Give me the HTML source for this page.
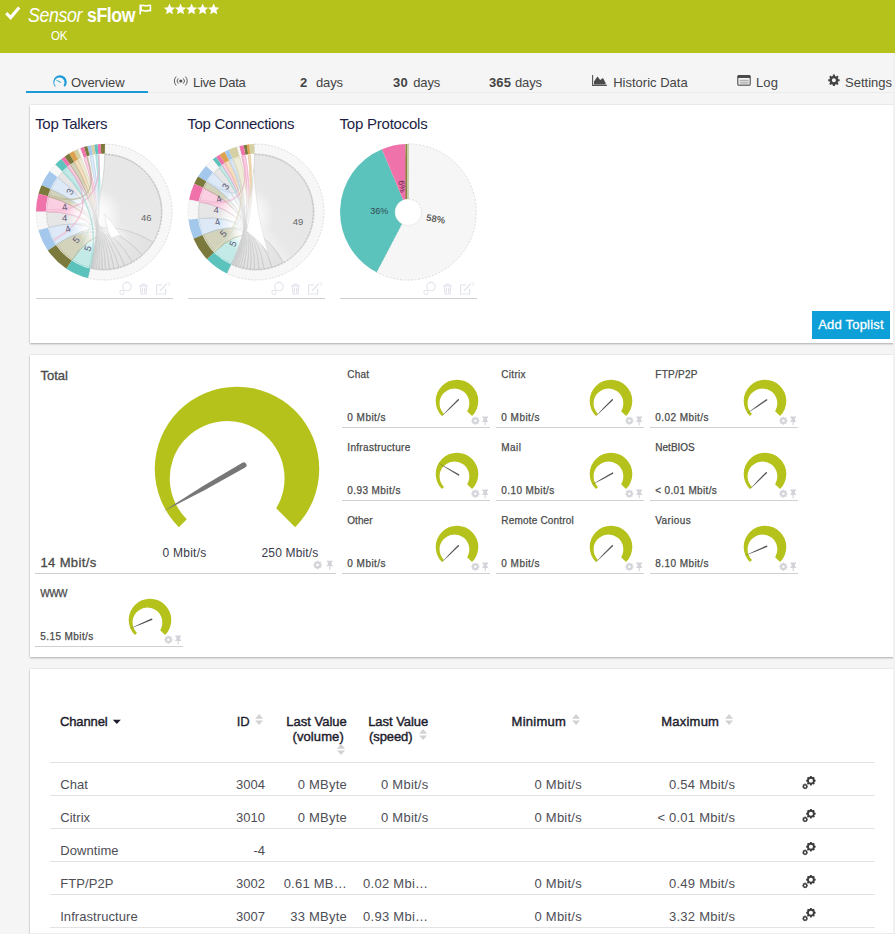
<!DOCTYPE html>
<html><head><meta charset="utf-8"><title>Sensor sFlow</title>
<style>
html,body{margin:0;padding:0}
body{width:895px;height:934px;overflow:hidden;background:#f5f5f5;position:relative;font-family:"Liberation Sans",sans-serif}
.t{position:absolute;white-space:nowrap;font-family:"Liberation Sans",sans-serif}
.p{position:absolute;background:#fff;box-shadow:0 1px 2px rgba(0,0,0,.28),0 0 1px rgba(0,0,0,.18)}
svg{overflow:visible}
svg text{font-family:"Liberation Sans",sans-serif}
</style></head><body>
<div style="position:absolute;left:0;top:0;width:895px;height:53px;background:#b5c21c"></div>
<svg style="position:absolute;left:0;top:0" width="30" height="30"><path d="M6.2 13.2 L10.6 17.6 L19.2 7.6" fill="none" stroke="#fff" stroke-width="3.1" stroke-linecap="butt" stroke-linejoin="miter"/></svg>
<div class="t" style="left:28.00px;top:4.57px;font-size:20px;line-height:20px;color:#fff;letter-spacing:-0.422px;transform:scaleX(0.8876);transform-origin:0 0;font-style:italic;">Sensor</div>
<div class="t" style="left:87.00px;top:4.57px;font-size:20px;line-height:20px;color:#fff;letter-spacing:-0.453px;transform:scaleX(0.8823);transform-origin:0 0;font-weight:700;">sFlow</div>
<svg style="position:absolute;left:138px;top:3px" width="16" height="14"><path d="M2.2 1.5 V11.5" stroke="#fff" stroke-width="1.6" fill="none"/><path d="M3 2.6 C5 1.6 6.5 3.4 8.6 2.8 C10 2.4 11 2 12.4 2.4 V7.6 C11 7.2 10 7.6 8.6 8 C6.5 8.6 5 6.8 3 7.8 Z" fill="none" stroke="#fff" stroke-width="1.6"/></svg>
<svg style="position:absolute;left:160px;top:0" width="70" height="20"><polygon points="9.50,3.60 11.12,7.28 15.11,7.68 12.12,10.35 12.97,14.27 9.50,12.25 6.03,14.27 6.88,10.35 3.89,7.68 7.88,7.28" fill="#fff"/><polygon points="20.55,3.60 22.17,7.28 26.16,7.68 23.17,10.35 24.02,14.27 20.55,12.25 17.08,14.27 17.93,10.35 14.94,7.68 18.93,7.28" fill="#fff"/><polygon points="31.60,3.60 33.22,7.28 37.21,7.68 34.22,10.35 35.07,14.27 31.60,12.25 28.13,14.27 28.98,10.35 25.99,7.68 29.98,7.28" fill="#fff"/><polygon points="42.65,3.60 44.27,7.28 48.26,7.68 45.27,10.35 46.12,14.27 42.65,12.25 39.18,14.27 40.03,10.35 37.04,7.68 41.03,7.28" fill="#fff"/><polygon points="53.70,3.60 55.32,7.28 59.31,7.68 56.32,10.35 57.17,14.27 53.70,12.25 50.23,14.27 51.08,10.35 48.09,7.68 52.08,7.28" fill="#fff"/></svg>
<div class="t" style="left:51.00px;top:29.00px;font-size:13px;line-height:13px;color:#fff;letter-spacing:-0.376px;transform:scaleX(0.8873);transform-origin:0 0;">OK</div>
<div style="position:absolute;left:26px;top:92px;width:869px;height:1px;background:#ebebeb"></div>
<div style="position:absolute;left:26px;top:91px;width:122px;height:2px;background:#1a9ad6"></div>
<div class="t" style="left:71.00px;top:76.00px;font-size:13px;line-height:13px;color:#444;letter-spacing:-0.085px;">Overview</div>
<div class="t" style="left:193.00px;top:76.00px;font-size:13px;line-height:13px;color:#444;letter-spacing:-0.269px;">Live Data</div>
<div class="t" style="left:300.00px;top:76.00px;font-size:13px;line-height:13px;color:#444;font-weight:700;">2</div>
<div class="t" style="left:316.00px;top:76.00px;font-size:13px;line-height:13px;color:#444;letter-spacing:-0.115px;">days</div>
<div class="t" style="left:393.00px;top:76.00px;font-size:13px;line-height:13px;color:#444;letter-spacing:0.270px;font-weight:700;">30</div>
<div class="t" style="left:413.30px;top:76.00px;font-size:13px;line-height:13px;color:#444;letter-spacing:-0.165px;">days</div>
<div class="t" style="left:489.00px;top:76.00px;font-size:13px;line-height:13px;color:#444;letter-spacing:0.104px;font-weight:700;">365</div>
<div class="t" style="left:515.00px;top:76.00px;font-size:13px;line-height:13px;color:#444;letter-spacing:-0.115px;">days</div>
<div class="t" style="left:613.20px;top:76.00px;font-size:13px;line-height:13px;color:#444;letter-spacing:0.007px;">Historic Data</div>
<div class="t" style="left:756.00px;top:76.00px;font-size:13px;line-height:13px;color:#444;letter-spacing:0.104px;">Log</div>
<div class="t" style="left:845.00px;top:76.00px;font-size:13px;line-height:13px;color:#444;letter-spacing:0.004px;">Settings</div>
<svg style="position:absolute;left:48.50px;top:71.30px" width="22" height="22" viewBox="48.50 71.30 22 22"><path d="M54.73,87.07 A6.75,6.75 0 1 1 64.27,87.07 L63.06,85.86 A5.13,5.13 0 1 0 55.28,86.52 Z" fill="#1a9ad6"/><path d="M60.25,82.19 L57.55,80.87 L54.73,79.77 L57.22,81.49 L59.83,82.98 A0.45,0.45 0 0 0 60.25,82.19 Z" fill="#1a9ad6"/></svg>
<svg style="position:absolute;left:173px;top:74px" width="17" height="14"><circle cx="7.8" cy="7" r="1.6" fill="#555"/><path d="M5.3 4.4 A3.7 3.7 0 0 0 5.3 9.6 M10.3 4.4 A3.7 3.7 0 0 1 10.3 9.6" fill="none" stroke="#555" stroke-width="0.95"/><path d="M3.2 2.6 A6.2 6.2 0 0 0 3.2 11.4 M12.4 2.6 A6.2 6.2 0 0 1 12.4 11.4" fill="none" stroke="#555" stroke-width="0.95"/></svg>
<svg style="position:absolute;left:591px;top:73px" width="18" height="16"><path d="M1.6 2 V12.4 H16" fill="none" stroke="#555" stroke-width="1.1"/><path d="M3 11.4 V8.4 L6.4 3.6 L9.2 7 L12 5 L14.6 10 V11.4 Z" fill="#4a4a4a"/></svg>
<svg style="position:absolute;left:736px;top:73px" width="17" height="15"><rect x="1.8" y="2.6" width="12.4" height="9.6" rx="1" fill="none" stroke="#4a4a4a" stroke-width="1.1"/><rect x="1.8" y="2.6" width="12.4" height="2.4" fill="#4a4a4a"/><path d="M3.6 7.3 H12.6 M3.6 9.2 H12.6 M3.6 11 H12.6" stroke="#8a8a8a" stroke-width="0.8"/></svg>
<svg style="position:absolute;left:826px;top:73px" width="15" height="15"><path d="M6.90,1.59 L8.90,1.59 L8.95,2.92 L10.25,3.46 L11.24,2.55 L12.65,3.96 L11.74,4.95 L12.28,6.25 L13.61,6.30 L13.61,8.30 L12.28,8.35 L11.74,9.65 L12.65,10.64 L11.24,12.05 L10.25,11.14 L8.95,11.68 L8.90,13.01 L6.90,13.01 L6.85,11.68 L5.55,11.14 L4.56,12.05 L3.15,10.64 L4.06,9.65 L3.52,8.35 L2.19,8.30 L2.19,6.30 L3.52,6.25 L4.06,4.95 L3.15,3.96 L4.56,2.55 L5.55,3.46 L6.85,2.92 Z M5.90,7.30 a2.0,2.0 0 1,0 4.0,0 a2.0,2.0 0 1,0 -4.0,0 Z" fill="#444" fill-rule="evenodd"/></svg>
<div class="p" style="left:30px;top:105px;width:880px;height:238px"></div>
<div class="p" style="left:30px;top:355px;width:880px;height:302px"></div>
<div class="p" style="left:30px;top:669px;width:880px;height:264px"></div>
<div class="t" style="left:35.20px;top:116.30px;font-size:15px;line-height:15px;color:#1c1e46;letter-spacing:-0.327px;">Top Talkers</div>
<div class="t" style="left:187.30px;top:116.30px;font-size:15px;line-height:15px;color:#1c1e46;letter-spacing:-0.316px;">Top Connections</div>
<div class="t" style="left:339.50px;top:116.30px;font-size:15px;line-height:15px;color:#1c1e46;letter-spacing:-0.221px;">Top Protocols</div>
<div style="position:absolute;left:36px;top:298px;width:137px;height:1px;background:#cfcfcf"></div>
<div style="position:absolute;left:188px;top:298px;width:137px;height:1px;background:#cfcfcf"></div>
<div style="position:absolute;left:340px;top:298px;width:137px;height:1px;background:#cfcfcf"></div>
<div style="position:absolute;left:812px;top:311px;width:78px;height:28px;background:#0d9fd8"></div>
<div class="t" style="left:818.20px;top:318.00px;font-size:13px;line-height:13px;color:#fff;letter-spacing:0.204px;-webkit-text-stroke:0.3px #fff;">Add Toplist</div>
<svg style="position:absolute;left:32px;top:139.7px" width="144" height="144" viewBox="32 139.7 144 144"><defs><linearGradient id="af0" gradientUnits="userSpaceOnUse" x1="154.3" y1="184.0" x2="81.1" y2="264.3"><stop offset="0" stop-color="#e7e7e7"/><stop offset="0.45" stop-color="#e8e8e8"/><stop offset="0.62" stop-color="#f4f4f4"/><stop offset="0.74" stop-color="#fff"/><stop offset="0.86" stop-color="#c3eae7"/><stop offset="1" stop-color="#c3eae7"/></linearGradient><linearGradient id="as0" gradientUnits="userSpaceOnUse" x1="154.3" y1="184.0" x2="81.1" y2="264.3"><stop offset="0" stop-color="#c4c4c4"/><stop offset="0.5" stop-color="#d6d6d6"/><stop offset="0.75" stop-color="#8fd3ce"/><stop offset="1" stop-color="#8fd3ce"/></linearGradient><linearGradient id="af1" gradientUnits="userSpaceOnUse" x1="148.0" y1="248.6" x2="63.7" y2="252.6"><stop offset="0" stop-color="#e2e2e2"/><stop offset="0.22" stop-color="#e6e6e6"/><stop offset="0.42" stop-color="#fbfbfb" stop-opacity="0.9"/><stop offset="0.6" stop-color="#fff" stop-opacity="0.85"/><stop offset="0.8" stop-color="#d3d2bb"/><stop offset="1" stop-color="#d3d2bb"/></linearGradient><linearGradient id="as1" gradientUnits="userSpaceOnUse" x1="148.0" y1="248.6" x2="63.7" y2="252.6"><stop offset="0" stop-color="#c4c4c4"/><stop offset="0.5" stop-color="#d6d6d6"/><stop offset="0.75" stop-color="#a9a880"/><stop offset="1" stop-color="#a9a880"/></linearGradient><linearGradient id="af2" gradientUnits="userSpaceOnUse" x1="137.4" y1="258.4" x2="52.0" y2="236.0"><stop offset="0" stop-color="#e2e2e2"/><stop offset="0.22" stop-color="#e6e6e6"/><stop offset="0.42" stop-color="#fbfbfb" stop-opacity="0.9"/><stop offset="0.6" stop-color="#fff" stop-opacity="0.85"/><stop offset="0.8" stop-color="#dde9f7"/><stop offset="1" stop-color="#dde9f7"/></linearGradient><linearGradient id="as2" gradientUnits="userSpaceOnUse" x1="137.4" y1="258.4" x2="52.0" y2="236.0"><stop offset="0" stop-color="#c4c4c4"/><stop offset="0.5" stop-color="#d6d6d6"/><stop offset="0.75" stop-color="#b9cfe6"/><stop offset="1" stop-color="#b9cfe6"/></linearGradient><linearGradient id="af3" gradientUnits="userSpaceOnUse" x1="128.5" y1="263.6" x2="47.1" y2="219.3"><stop offset="0" stop-color="#e2e2e2"/><stop offset="0.22" stop-color="#e6e6e6"/><stop offset="0.42" stop-color="#fbfbfb" stop-opacity="0.9"/><stop offset="0.6" stop-color="#fff" stop-opacity="0.85"/><stop offset="0.8" stop-color="#e6e6e6"/><stop offset="1" stop-color="#e6e6e6"/></linearGradient><linearGradient id="as3" gradientUnits="userSpaceOnUse" x1="128.5" y1="263.6" x2="47.1" y2="219.3"><stop offset="0" stop-color="#c4c4c4"/><stop offset="0.5" stop-color="#d6d6d6"/><stop offset="0.75" stop-color="#c9c9c9"/><stop offset="1" stop-color="#c9c9c9"/></linearGradient><linearGradient id="af4" gradientUnits="userSpaceOnUse" x1="121.7" y1="266.3" x2="47.2" y2="203.8"><stop offset="0" stop-color="#e2e2e2"/><stop offset="0.22" stop-color="#e6e6e6"/><stop offset="0.42" stop-color="#fbfbfb" stop-opacity="0.9"/><stop offset="0.6" stop-color="#fff" stop-opacity="0.85"/><stop offset="0.8" stop-color="#fbcfe2"/><stop offset="1" stop-color="#fbcfe2"/></linearGradient><linearGradient id="as4" gradientUnits="userSpaceOnUse" x1="121.7" y1="266.3" x2="47.2" y2="203.8"><stop offset="0" stop-color="#c4c4c4"/><stop offset="0.5" stop-color="#d6d6d6"/><stop offset="0.75" stop-color="#e9a3c3"/><stop offset="1" stop-color="#e9a3c3"/></linearGradient><linearGradient id="af5" gradientUnits="userSpaceOnUse" x1="116.4" y1="267.7" x2="49.9" y2="192.6"><stop offset="0" stop-color="#e2e2e2"/><stop offset="0.22" stop-color="#e6e6e6"/><stop offset="0.42" stop-color="#fbfbfb" stop-opacity="0.9"/><stop offset="0.6" stop-color="#fff" stop-opacity="0.85"/><stop offset="0.8" stop-color="#d3d2bb"/><stop offset="1" stop-color="#d3d2bb"/></linearGradient><linearGradient id="as5" gradientUnits="userSpaceOnUse" x1="116.4" y1="267.7" x2="49.9" y2="192.6"><stop offset="0" stop-color="#c4c4c4"/><stop offset="0.5" stop-color="#d6d6d6"/><stop offset="0.75" stop-color="#a9a880"/><stop offset="1" stop-color="#a9a880"/></linearGradient><linearGradient id="af6" gradientUnits="userSpaceOnUse" x1="111.7" y1="268.6" x2="54.3" y2="183.0"><stop offset="0" stop-color="#e2e2e2"/><stop offset="0.22" stop-color="#e6e6e6"/><stop offset="0.42" stop-color="#fbfbfb" stop-opacity="0.9"/><stop offset="0.6" stop-color="#fff" stop-opacity="0.85"/><stop offset="0.8" stop-color="#dde9f7"/><stop offset="1" stop-color="#dde9f7"/></linearGradient><linearGradient id="as6" gradientUnits="userSpaceOnUse" x1="111.7" y1="268.6" x2="54.3" y2="183.0"><stop offset="0" stop-color="#c4c4c4"/><stop offset="0.5" stop-color="#d6d6d6"/><stop offset="0.75" stop-color="#b9cfe6"/><stop offset="1" stop-color="#b9cfe6"/></linearGradient><linearGradient id="af7" gradientUnits="userSpaceOnUse" x1="107.5" y1="269.0" x2="60.4" y2="174.4"><stop offset="0" stop-color="#e2e2e2"/><stop offset="0.22" stop-color="#e6e6e6"/><stop offset="0.42" stop-color="#fbfbfb" stop-opacity="0.9"/><stop offset="0.6" stop-color="#fff" stop-opacity="0.85"/><stop offset="0.8" stop-color="#e6e6e6"/><stop offset="1" stop-color="#e6e6e6"/></linearGradient><linearGradient id="as7" gradientUnits="userSpaceOnUse" x1="107.5" y1="269.0" x2="60.4" y2="174.4"><stop offset="0" stop-color="#c4c4c4"/><stop offset="0.5" stop-color="#d6d6d6"/><stop offset="0.75" stop-color="#c9c9c9"/><stop offset="1" stop-color="#c9c9c9"/></linearGradient><linearGradient id="af8" gradientUnits="userSpaceOnUse" x1="103.7" y1="269.1" x2="65.3" y2="169.3"><stop offset="0" stop-color="#e2e2e2"/><stop offset="0.22" stop-color="#e6e6e6"/><stop offset="0.42" stop-color="#fbfbfb" stop-opacity="0.9"/><stop offset="0.6" stop-color="#fff" stop-opacity="0.85"/><stop offset="0.8" stop-color="#c3eae7"/><stop offset="1" stop-color="#c3eae7"/></linearGradient><linearGradient id="as8" gradientUnits="userSpaceOnUse" x1="103.7" y1="269.1" x2="65.3" y2="169.3"><stop offset="0" stop-color="#c4c4c4"/><stop offset="0.5" stop-color="#d6d6d6"/><stop offset="0.75" stop-color="#8fd3ce"/><stop offset="1" stop-color="#8fd3ce"/></linearGradient><linearGradient id="af9" gradientUnits="userSpaceOnUse" x1="100.5" y1="269.0" x2="69.3" y2="166.0"><stop offset="0" stop-color="#e2e2e2"/><stop offset="0.22" stop-color="#e6e6e6"/><stop offset="0.42" stop-color="#fbfbfb" stop-opacity="0.9"/><stop offset="0.6" stop-color="#fff" stop-opacity="0.85"/><stop offset="0.8" stop-color="#fbcfe2"/><stop offset="1" stop-color="#fbcfe2"/></linearGradient><linearGradient id="as9" gradientUnits="userSpaceOnUse" x1="100.5" y1="269.0" x2="69.3" y2="166.0"><stop offset="0" stop-color="#c4c4c4"/><stop offset="0.5" stop-color="#d6d6d6"/><stop offset="0.75" stop-color="#e9a3c3"/><stop offset="1" stop-color="#e9a3c3"/></linearGradient><linearGradient id="af10" gradientUnits="userSpaceOnUse" x1="97.8" y1="268.8" x2="72.6" y2="163.6"><stop offset="0" stop-color="#e2e2e2"/><stop offset="0.22" stop-color="#e6e6e6"/><stop offset="0.42" stop-color="#fbfbfb" stop-opacity="0.9"/><stop offset="0.6" stop-color="#fff" stop-opacity="0.85"/><stop offset="0.8" stop-color="#d3d2bb"/><stop offset="1" stop-color="#d3d2bb"/></linearGradient><linearGradient id="as10" gradientUnits="userSpaceOnUse" x1="97.8" y1="268.8" x2="72.6" y2="163.6"><stop offset="0" stop-color="#c4c4c4"/><stop offset="0.5" stop-color="#d6d6d6"/><stop offset="0.75" stop-color="#a9a880"/><stop offset="1" stop-color="#a9a880"/></linearGradient><linearGradient id="af11" gradientUnits="userSpaceOnUse" x1="95.5" y1="268.5" x2="76.5" y2="161.3"><stop offset="0" stop-color="#e2e2e2"/><stop offset="0.22" stop-color="#e6e6e6"/><stop offset="0.42" stop-color="#fbfbfb" stop-opacity="0.9"/><stop offset="0.6" stop-color="#fff" stop-opacity="0.85"/><stop offset="0.8" stop-color="#f3dfc0"/><stop offset="1" stop-color="#f3dfc0"/></linearGradient><linearGradient id="as11" gradientUnits="userSpaceOnUse" x1="95.5" y1="268.5" x2="76.5" y2="161.3"><stop offset="0" stop-color="#c4c4c4"/><stop offset="0.5" stop-color="#d6d6d6"/><stop offset="0.75" stop-color="#e3c08c"/><stop offset="1" stop-color="#e3c08c"/></linearGradient><linearGradient id="af12" gradientUnits="userSpaceOnUse" x1="93.8" y1="268.2" x2="80.1" y2="159.5"><stop offset="0" stop-color="#e2e2e2"/><stop offset="0.22" stop-color="#e6e6e6"/><stop offset="0.42" stop-color="#fbfbfb" stop-opacity="0.9"/><stop offset="0.6" stop-color="#fff" stop-opacity="0.85"/><stop offset="0.8" stop-color="#efedda"/><stop offset="1" stop-color="#efedda"/></linearGradient><linearGradient id="as12" gradientUnits="userSpaceOnUse" x1="93.8" y1="268.2" x2="80.1" y2="159.5"><stop offset="0" stop-color="#c4c4c4"/><stop offset="0.5" stop-color="#d6d6d6"/><stop offset="0.75" stop-color="#d8d4b4"/><stop offset="1" stop-color="#d8d4b4"/></linearGradient><linearGradient id="af13" gradientUnits="userSpaceOnUse" x1="92.6" y1="267.9" x2="85.5" y2="157.4"><stop offset="0" stop-color="#e2e2e2"/><stop offset="0.22" stop-color="#e6e6e6"/><stop offset="0.42" stop-color="#fbfbfb" stop-opacity="0.9"/><stop offset="0.6" stop-color="#fff" stop-opacity="0.85"/><stop offset="0.8" stop-color="#fbcfe2"/><stop offset="1" stop-color="#fbcfe2"/></linearGradient><linearGradient id="as13" gradientUnits="userSpaceOnUse" x1="92.6" y1="267.9" x2="85.5" y2="157.4"><stop offset="0" stop-color="#c4c4c4"/><stop offset="0.5" stop-color="#d6d6d6"/><stop offset="0.75" stop-color="#e9a3c3"/><stop offset="1" stop-color="#e9a3c3"/></linearGradient><linearGradient id="af14" gradientUnits="userSpaceOnUse" x1="91.6" y1="267.7" x2="91.4" y2="155.7"><stop offset="0" stop-color="#e2e2e2"/><stop offset="0.22" stop-color="#e6e6e6"/><stop offset="0.42" stop-color="#fbfbfb" stop-opacity="0.9"/><stop offset="0.6" stop-color="#fff" stop-opacity="0.85"/><stop offset="0.8" stop-color="#dde9f7"/><stop offset="1" stop-color="#dde9f7"/></linearGradient><linearGradient id="as14" gradientUnits="userSpaceOnUse" x1="91.6" y1="267.7" x2="91.4" y2="155.7"><stop offset="0" stop-color="#c4c4c4"/><stop offset="0.5" stop-color="#d6d6d6"/><stop offset="0.75" stop-color="#b9cfe6"/><stop offset="1" stop-color="#b9cfe6"/></linearGradient><linearGradient id="af15" gradientUnits="userSpaceOnUse" x1="90.8" y1="267.6" x2="97.1" y2="154.7"><stop offset="0" stop-color="#e2e2e2"/><stop offset="0.22" stop-color="#e6e6e6"/><stop offset="0.42" stop-color="#fbfbfb" stop-opacity="0.9"/><stop offset="0.6" stop-color="#fff" stop-opacity="0.85"/><stop offset="0.8" stop-color="#c3eae7"/><stop offset="1" stop-color="#c3eae7"/></linearGradient><linearGradient id="as15" gradientUnits="userSpaceOnUse" x1="90.8" y1="267.6" x2="97.1" y2="154.7"><stop offset="0" stop-color="#c4c4c4"/><stop offset="0.5" stop-color="#d6d6d6"/><stop offset="0.75" stop-color="#8fd3ce"/><stop offset="1" stop-color="#8fd3ce"/></linearGradient><radialGradient id="aw" gradientUnits="userSpaceOnUse" cx="95" cy="213.7" r="27"><stop offset="0" stop-color="#fff" stop-opacity="0.9"/><stop offset="0.45" stop-color="#fff" stop-opacity="0.7"/><stop offset="1" stop-color="#fff" stop-opacity="0"/></radialGradient></defs><circle cx="104" cy="211.7" r="68" fill="#fff"/><path d="M104.95,143.71 A68,68 0 1 1 88.01,277.79 L90.31,268.27 A58.2,58.2 0 1 0 104.81,153.51 Z" fill="#f7f7f7" stroke="#d0d0d0" stroke-width="0.7" stroke-dasharray="2 1.4"/><path d="M104.80,154.31 A57.4,57.4 0 0 1 152.89,241.78 Q104,211.7 90.50,267.49 A57.4,57.4 0 0 1 72.32,259.57 Q104,211.7 104.80,154.31 Z" fill="url(#af0)" stroke="url(#as0)" stroke-width="0.6"/><path d="M152.89,241.78 A57.4,57.4 0 0 1 142.18,254.56 Q104,211.7 72.32,259.57 A57.4,57.4 0 0 1 56.64,244.13 Q104,211.7 152.89,241.78 Z" fill="url(#af1)" stroke="url(#as1)" stroke-width="0.55"/><path d="M142.18,254.56 A57.4,57.4 0 0 1 132.27,261.66 Q104,211.7 56.64,244.13 A57.4,57.4 0 0 1 48.71,227.14 Q104,211.7 142.18,254.56 Z" fill="url(#af2)" stroke="url(#as2)" stroke-width="0.55"/><path d="M132.27,261.66 A57.4,57.4 0 0 1 124.57,265.29 Q104,211.7 48.71,227.14 A57.4,57.4 0 0 1 46.60,211.40 Q104,211.7 132.27,261.66 Z" fill="url(#af3)" stroke="url(#as3)" stroke-width="0.55"/><path d="M124.57,265.29 A57.4,57.4 0 0 1 118.86,267.14 Q104,211.7 46.60,211.40 A57.4,57.4 0 0 1 48.71,196.26 Q104,211.7 124.57,265.29 Z" fill="url(#af4)" stroke="url(#as4)" stroke-width="0.55"/><path d="M118.86,267.14 A57.4,57.4 0 0 1 113.97,268.23 Q104,211.7 48.71,196.26 A57.4,57.4 0 0 1 51.24,189.09 Q104,211.7 118.86,267.14 Z" fill="url(#af5)" stroke="url(#as5)" stroke-width="0.55"/><path d="M113.97,268.23 A57.4,57.4 0 0 1 109.50,268.84 Q104,211.7 51.24,189.09 A57.4,57.4 0 0 1 58.04,177.32 Q104,211.7 113.97,268.23 Z" fill="url(#af6)" stroke="url(#as6)" stroke-width="0.55"/><path d="M109.50,268.84 A57.4,57.4 0 0 1 105.50,269.08 Q104,211.7 58.04,177.32 A57.4,57.4 0 0 1 62.85,171.68 Q104,211.7 109.50,268.84 Z" fill="url(#af7)" stroke="url(#as7)" stroke-width="0.55"/><path d="M105.50,269.08 A57.4,57.4 0 0 1 102.00,269.07 Q104,211.7 62.85,171.68 A57.4,57.4 0 0 1 67.95,167.03 Q104,211.7 105.50,269.08 Z" fill="url(#af8)" stroke="url(#as8)" stroke-width="0.55"/><path d="M102.00,269.07 A57.4,57.4 0 0 1 99.00,268.88 Q104,211.7 67.95,167.03 A57.4,57.4 0 0 1 70.67,164.97 Q104,211.7 102.00,269.07 Z" fill="url(#af9)" stroke="url(#as9)" stroke-width="0.55"/><path d="M99.00,268.88 A57.4,57.4 0 0 1 96.51,268.61 Q104,211.7 70.67,164.97 A57.4,57.4 0 0 1 74.61,162.40 Q104,211.7 99.00,268.88 Z" fill="url(#af10)" stroke="url(#as10)" stroke-width="0.55"/><path d="M96.51,268.61 A57.4,57.4 0 0 1 94.53,268.31 Q104,211.7 74.61,162.40 A57.4,57.4 0 0 1 78.48,160.29 Q104,211.7 96.51,268.61 Z" fill="url(#af11)" stroke="url(#as11)" stroke-width="0.55"/><path d="M94.53,268.31 A57.4,57.4 0 0 1 93.05,268.05 Q104,211.7 78.48,160.29 A57.4,57.4 0 0 1 81.76,158.79 Q104,211.7 94.53,268.31 Z" fill="url(#af12)" stroke="url(#as12)" stroke-width="0.55"/><path d="M93.05,268.05 A57.4,57.4 0 0 1 92.07,267.85 Q104,211.7 83.90,157.94 A57.4,57.4 0 0 1 87.03,156.87 Q104,211.7 93.05,268.05 Z" fill="url(#af13)" stroke="url(#as13)" stroke-width="0.55"/><path d="M92.07,267.85 A57.4,57.4 0 0 1 91.09,267.63 Q104,211.7 89.82,156.08 A57.4,57.4 0 0 1 92.95,155.37 Q104,211.7 92.07,267.85 Z" fill="url(#af14)" stroke="url(#as14)" stroke-width="0.55"/><path d="M91.09,267.63 A57.4,57.4 0 0 1 90.50,267.49 Q104,211.7 95.71,154.90 A57.4,57.4 0 0 1 98.40,154.57 Q104,211.7 91.09,267.63 Z" fill="url(#af15)" stroke="url(#as15)" stroke-width="0.55"/><circle cx="95" cy="213.7" r="27" fill="url(#aw)"/><path d="M104.80,154.31 A57.4,57.4 0 0 1 152.89,241.78 Q104,211.7 90.50,267.49 A57.4,57.4 0 0 1 72.32,259.57 Q104,211.7 104.80,154.31 Z" fill="none" stroke="url(#as0)" stroke-width="0.4" stroke-opacity="0.7"/><path d="M152.89,241.78 A57.4,57.4 0 0 1 142.18,254.56 Q104,211.7 72.32,259.57 A57.4,57.4 0 0 1 56.64,244.13 Q104,211.7 152.89,241.78 Z" fill="none" stroke="url(#as1)" stroke-width="0.4" stroke-opacity="0.7"/><path d="M142.18,254.56 A57.4,57.4 0 0 1 132.27,261.66 Q104,211.7 56.64,244.13 A57.4,57.4 0 0 1 48.71,227.14 Q104,211.7 142.18,254.56 Z" fill="none" stroke="url(#as2)" stroke-width="0.4" stroke-opacity="0.7"/><path d="M132.27,261.66 A57.4,57.4 0 0 1 124.57,265.29 Q104,211.7 48.71,227.14 A57.4,57.4 0 0 1 46.60,211.40 Q104,211.7 132.27,261.66 Z" fill="none" stroke="url(#as3)" stroke-width="0.4" stroke-opacity="0.7"/><path d="M124.57,265.29 A57.4,57.4 0 0 1 118.86,267.14 Q104,211.7 46.60,211.40 A57.4,57.4 0 0 1 48.71,196.26 Q104,211.7 124.57,265.29 Z" fill="none" stroke="url(#as4)" stroke-width="0.4" stroke-opacity="0.7"/><path d="M118.86,267.14 A57.4,57.4 0 0 1 113.97,268.23 Q104,211.7 48.71,196.26 A57.4,57.4 0 0 1 51.24,189.09 Q104,211.7 118.86,267.14 Z" fill="none" stroke="url(#as5)" stroke-width="0.4" stroke-opacity="0.7"/><path d="M113.97,268.23 A57.4,57.4 0 0 1 109.50,268.84 Q104,211.7 51.24,189.09 A57.4,57.4 0 0 1 58.04,177.32 Q104,211.7 113.97,268.23 Z" fill="none" stroke="url(#as6)" stroke-width="0.4" stroke-opacity="0.7"/><path d="M109.50,268.84 A57.4,57.4 0 0 1 105.50,269.08 Q104,211.7 58.04,177.32 A57.4,57.4 0 0 1 62.85,171.68 Q104,211.7 109.50,268.84 Z" fill="none" stroke="url(#as7)" stroke-width="0.4" stroke-opacity="0.7"/><path d="M105.50,269.08 A57.4,57.4 0 0 1 102.00,269.07 Q104,211.7 62.85,171.68 A57.4,57.4 0 0 1 67.95,167.03 Q104,211.7 105.50,269.08 Z" fill="none" stroke="url(#as8)" stroke-width="0.4" stroke-opacity="0.7"/><path d="M102.00,269.07 A57.4,57.4 0 0 1 99.00,268.88 Q104,211.7 67.95,167.03 A57.4,57.4 0 0 1 70.67,164.97 Q104,211.7 102.00,269.07 Z" fill="none" stroke="url(#as9)" stroke-width="0.4" stroke-opacity="0.7"/><path d="M99.00,268.88 A57.4,57.4 0 0 1 96.51,268.61 Q104,211.7 70.67,164.97 A57.4,57.4 0 0 1 74.61,162.40 Q104,211.7 99.00,268.88 Z" fill="none" stroke="url(#as10)" stroke-width="0.4" stroke-opacity="0.7"/><path d="M96.51,268.61 A57.4,57.4 0 0 1 94.53,268.31 Q104,211.7 74.61,162.40 A57.4,57.4 0 0 1 78.48,160.29 Q104,211.7 96.51,268.61 Z" fill="none" stroke="url(#as11)" stroke-width="0.4" stroke-opacity="0.7"/><path d="M94.53,268.31 A57.4,57.4 0 0 1 93.05,268.05 Q104,211.7 78.48,160.29 A57.4,57.4 0 0 1 81.76,158.79 Q104,211.7 94.53,268.31 Z" fill="none" stroke="url(#as12)" stroke-width="0.4" stroke-opacity="0.7"/><path d="M93.05,268.05 A57.4,57.4 0 0 1 92.07,267.85 Q104,211.7 83.90,157.94 A57.4,57.4 0 0 1 87.03,156.87 Q104,211.7 93.05,268.05 Z" fill="none" stroke="url(#as13)" stroke-width="0.4" stroke-opacity="0.7"/><path d="M92.07,267.85 A57.4,57.4 0 0 1 91.09,267.63 Q104,211.7 89.82,156.08 A57.4,57.4 0 0 1 92.95,155.37 Q104,211.7 92.07,267.85 Z" fill="none" stroke="url(#as14)" stroke-width="0.4" stroke-opacity="0.7"/><path d="M91.09,267.63 A57.4,57.4 0 0 1 90.50,267.49 Q104,211.7 95.71,154.90 A57.4,57.4 0 0 1 98.40,154.57 Q104,211.7 91.09,267.63 Z" fill="none" stroke="url(#as15)" stroke-width="0.4" stroke-opacity="0.7"/><path d="M46.60,211.40 A57.4,57.4 0 0 1 46.65,209.30 Q104,211.7 98.40,154.57 A57.4,57.4 0 0 1 99.40,154.48 Q104,211.7 46.60,211.40 Z" fill="#fbcfe2" fill-opacity="0.5" stroke="#e9a3c3" stroke-width="0.5" stroke-opacity="0.85"/><path d="M48.71,196.26 A57.4,57.4 0 0 1 49.17,194.73 Q104,211.7 87.03,156.87 A57.4,57.4 0 0 1 87.99,156.58 Q104,211.7 48.71,196.26 Z" fill="#d3d2bb" fill-opacity="0.5" stroke="#a9a880" stroke-width="0.5" stroke-opacity="0.85"/><path d="M62.85,171.68 A57.4,57.4 0 0 1 63.70,170.83 Q104,211.7 90.50,267.49 A57.4,57.4 0 0 1 89.14,267.14 Q104,211.7 62.85,171.68 Z" fill="#c3eae7" fill-opacity="0.5" stroke="#8fd3ce" stroke-width="0.5" stroke-opacity="0.85"/><path d="M67.95,167.03 A57.4,57.4 0 0 1 68.66,166.47 Q104,211.7 54.29,240.40 A57.4,57.4 0 0 1 53.56,239.09 Q104,211.7 67.95,167.03 Z" fill="#fbcfe2" fill-opacity="0.5" stroke="#e9a3c3" stroke-width="0.5" stroke-opacity="0.85"/><path d="M104.9,213.8 Q112,222 120.6,235 Q116,235.5 111.6,238 Q107,232 104.9,213.8 Z" fill="#fff" fill-opacity="0.95" stroke="#d0d0d0" stroke-width="0.4"/><path d="M100.68,143.78 A68,68 0 0 1 104.95,143.71 L104.81,153.51 A58.2,58.2 0 0 0 101.16,153.57 Z" fill="#7b7a3c"/><path d="M97.36,144.02 A68,68 0 0 1 100.68,143.78 L101.16,153.57 A58.2,58.2 0 0 0 98.32,153.78 Z" fill="#f072ab"/><path d="M94.18,144.41 A68,68 0 0 1 97.36,144.02 L98.32,153.78 A58.2,58.2 0 0 0 95.60,154.11 Z" fill="#5cc3bc"/><path d="M90.91,144.97 A68,68 0 0 1 94.18,144.41 L95.60,154.11 A58.2,58.2 0 0 0 92.80,154.59 Z" fill="#d5d0a4"/><path d="M87.20,145.81 A68,68 0 0 1 90.91,144.97 L92.80,154.59 A58.2,58.2 0 0 0 89.62,155.30 Z" fill="#a4c8ec"/><path d="M83.89,146.74 A68,68 0 0 1 87.20,145.81 L89.62,155.30 A58.2,58.2 0 0 0 86.79,156.10 Z" fill="#7b7a3c"/><path d="M80.19,148.01 A68,68 0 0 1 83.89,146.74 L86.79,156.10 A58.2,58.2 0 0 0 83.62,157.19 Z" fill="#f072ab"/><path d="M77.65,149.01 A68,68 0 0 1 80.19,148.01 L83.62,157.19 A58.2,58.2 0 0 0 81.45,158.05 Z" fill="#f7f7f7" stroke="#d4d4d4" stroke-width="0.5" stroke-dasharray="2 1.4"/><path d="M73.76,150.79 A68,68 0 0 1 77.65,149.01 L81.45,158.05 A58.2,58.2 0 0 0 78.12,159.57 Z" fill="#d5d0a4"/><path d="M69.18,153.29 A68,68 0 0 1 73.76,150.79 L78.12,159.57 A58.2,58.2 0 0 0 74.20,161.71 Z" fill="#dca24f"/><path d="M64.51,156.34 A68,68 0 0 1 69.18,153.29 L74.20,161.71 A58.2,58.2 0 0 0 70.20,164.32 Z" fill="#7b7a3c"/><path d="M61.30,158.78 A68,68 0 0 1 64.51,156.34 L70.20,164.32 A58.2,58.2 0 0 0 67.45,166.41 Z" fill="#f072ab"/><path d="M55.25,164.29 A68,68 0 0 1 61.30,158.78 L67.45,166.41 A58.2,58.2 0 0 0 62.28,171.12 Z" fill="#5cc3bc"/><path d="M49.55,170.97 A68,68 0 0 1 55.25,164.29 L62.28,171.12 A58.2,58.2 0 0 0 57.40,176.84 Z" fill="#f7f7f7" stroke="#d4d4d4" stroke-width="0.5" stroke-dasharray="2 1.4"/><path d="M41.50,184.91 A68,68 0 0 1 49.55,170.97 L57.40,176.84 A58.2,58.2 0 0 0 50.51,188.77 Z" fill="#a4c8ec"/><path d="M38.50,193.41 A68,68 0 0 1 41.50,184.91 L50.51,188.77 A58.2,58.2 0 0 0 47.94,196.05 Z" fill="#7b7a3c"/><path d="M36.00,211.34 A68,68 0 0 1 38.50,193.41 L47.94,196.05 A58.2,58.2 0 0 0 45.80,211.40 Z" fill="#f072ab"/><path d="M38.50,229.99 A68,68 0 0 1 36.00,211.34 L45.80,211.40 A58.2,58.2 0 0 0 47.94,227.35 Z" fill="#f7f7f7" stroke="#d4d4d4" stroke-width="0.5" stroke-dasharray="2 1.4"/><path d="M47.89,250.12 A68,68 0 0 1 38.50,229.99 L47.94,227.35 A58.2,58.2 0 0 0 55.98,244.58 Z" fill="#a4c8ec"/><path d="M66.47,268.40 A68,68 0 0 1 47.89,250.12 L55.98,244.58 A58.2,58.2 0 0 0 71.88,260.23 Z" fill="#7b7a3c"/><path d="M88.01,277.79 A68,68 0 0 1 66.47,268.40 L71.88,260.23 A58.2,58.2 0 0 0 90.31,268.27 Z" fill="#5cc3bc"/><path d="M104.81,154.01 A57.699999999999996,57.699999999999996 0 1 1 90.43,267.78" fill="none" stroke="#b8b8b8" stroke-width="0.7" stroke-dasharray="2.2 1.4"/><text x="70.1" y="191.4" font-size="9.5" fill="#5a5a78" text-anchor="middle" transform="rotate(-60 70.1 191.4)" dy="3.2">3</text><text x="64.7" y="206.8" font-size="9.5" fill="#5a5a78" text-anchor="middle" transform="rotate(-8 64.7 206.8)" dy="3.2">4</text><text x="64.7" y="217.5" font-size="9.5" fill="#5a5a78" text-anchor="middle" transform="rotate(0 64.7 217.5)" dy="3.2">4</text><text x="68" y="228.7" font-size="9.5" fill="#5a5a78" text-anchor="middle" transform="rotate(-20 68 228.7)" dy="3.2">4</text><text x="76.2" y="239.7" font-size="9.5" fill="#5a5a78" text-anchor="middle" transform="rotate(-50 76.2 239.7)" dy="3.2">5</text><text x="87.8" y="248.2" font-size="9.5" fill="#5a5a78" text-anchor="middle" transform="rotate(-70 87.8 248.2)" dy="3.2">5</text><text x="146.2" y="217.8" font-size="9.5" fill="#666" text-anchor="middle" dy="3.2">46</text></svg>
<svg style="position:absolute;left:184px;top:139.8px" width="144" height="144" viewBox="184 139.8 144 144"><defs><linearGradient id="bf0" gradientUnits="userSpaceOnUse" x1="311.4" y1="196.9" x2="222.5" y2="258.4"><stop offset="0" stop-color="#e7e7e7"/><stop offset="0.45" stop-color="#e8e8e8"/><stop offset="0.62" stop-color="#f4f4f4"/><stop offset="0.74" stop-color="#fff"/><stop offset="0.86" stop-color="#c3eae7"/><stop offset="1" stop-color="#c3eae7"/></linearGradient><linearGradient id="bs0" gradientUnits="userSpaceOnUse" x1="311.4" y1="196.9" x2="222.5" y2="258.4"><stop offset="0" stop-color="#c4c4c4"/><stop offset="0.5" stop-color="#d6d6d6"/><stop offset="0.75" stop-color="#8fd3ce"/><stop offset="1" stop-color="#8fd3ce"/></linearGradient><linearGradient id="bf1" gradientUnits="userSpaceOnUse" x1="277.8" y1="264.9" x2="208.2" y2="243.6"><stop offset="0" stop-color="#e2e2e2"/><stop offset="0.22" stop-color="#e6e6e6"/><stop offset="0.42" stop-color="#fbfbfb" stop-opacity="0.9"/><stop offset="0.6" stop-color="#fff" stop-opacity="0.85"/><stop offset="0.8" stop-color="#d3d2bb"/><stop offset="1" stop-color="#d3d2bb"/></linearGradient><linearGradient id="bs1" gradientUnits="userSpaceOnUse" x1="277.8" y1="264.9" x2="208.2" y2="243.6"><stop offset="0" stop-color="#c4c4c4"/><stop offset="0.5" stop-color="#d6d6d6"/><stop offset="0.75" stop-color="#a9a880"/><stop offset="1" stop-color="#a9a880"/></linearGradient><linearGradient id="bf2" gradientUnits="userSpaceOnUse" x1="268.0" y1="267.9" x2="200.5" y2="226.6"><stop offset="0" stop-color="#e2e2e2"/><stop offset="0.22" stop-color="#e6e6e6"/><stop offset="0.42" stop-color="#fbfbfb" stop-opacity="0.9"/><stop offset="0.6" stop-color="#fff" stop-opacity="0.85"/><stop offset="0.8" stop-color="#dde9f7"/><stop offset="1" stop-color="#dde9f7"/></linearGradient><linearGradient id="bs2" gradientUnits="userSpaceOnUse" x1="268.0" y1="267.9" x2="200.5" y2="226.6"><stop offset="0" stop-color="#c4c4c4"/><stop offset="0.5" stop-color="#d6d6d6"/><stop offset="0.75" stop-color="#b9cfe6"/><stop offset="1" stop-color="#b9cfe6"/></linearGradient><linearGradient id="bf3" gradientUnits="userSpaceOnUse" x1="261.5" y1="268.9" x2="198.6" y2="209.9"><stop offset="0" stop-color="#e2e2e2"/><stop offset="0.22" stop-color="#e6e6e6"/><stop offset="0.42" stop-color="#fbfbfb" stop-opacity="0.9"/><stop offset="0.6" stop-color="#fff" stop-opacity="0.85"/><stop offset="0.8" stop-color="#e6e6e6"/><stop offset="1" stop-color="#e6e6e6"/></linearGradient><linearGradient id="bs3" gradientUnits="userSpaceOnUse" x1="261.5" y1="268.9" x2="198.6" y2="209.9"><stop offset="0" stop-color="#c4c4c4"/><stop offset="0.5" stop-color="#d6d6d6"/><stop offset="0.75" stop-color="#c9c9c9"/><stop offset="1" stop-color="#c9c9c9"/></linearGradient><linearGradient id="bf4" gradientUnits="userSpaceOnUse" x1="256.8" y1="269.2" x2="201.2" y2="194.6"><stop offset="0" stop-color="#e2e2e2"/><stop offset="0.22" stop-color="#e6e6e6"/><stop offset="0.42" stop-color="#fbfbfb" stop-opacity="0.9"/><stop offset="0.6" stop-color="#fff" stop-opacity="0.85"/><stop offset="0.8" stop-color="#fbcfe2"/><stop offset="1" stop-color="#fbcfe2"/></linearGradient><linearGradient id="bs4" gradientUnits="userSpaceOnUse" x1="256.8" y1="269.2" x2="201.2" y2="194.6"><stop offset="0" stop-color="#c4c4c4"/><stop offset="0.5" stop-color="#d6d6d6"/><stop offset="0.75" stop-color="#e9a3c3"/><stop offset="1" stop-color="#e9a3c3"/></linearGradient><linearGradient id="bf5" gradientUnits="userSpaceOnUse" x1="252.5" y1="269.1" x2="205.3" y2="184.8"><stop offset="0" stop-color="#e2e2e2"/><stop offset="0.22" stop-color="#e6e6e6"/><stop offset="0.42" stop-color="#fbfbfb" stop-opacity="0.9"/><stop offset="0.6" stop-color="#fff" stop-opacity="0.85"/><stop offset="0.8" stop-color="#d3d2bb"/><stop offset="1" stop-color="#d3d2bb"/></linearGradient><linearGradient id="bs5" gradientUnits="userSpaceOnUse" x1="252.5" y1="269.1" x2="205.3" y2="184.8"><stop offset="0" stop-color="#c4c4c4"/><stop offset="0.5" stop-color="#d6d6d6"/><stop offset="0.75" stop-color="#a9a880"/><stop offset="1" stop-color="#a9a880"/></linearGradient><linearGradient id="bf6" gradientUnits="userSpaceOnUse" x1="248.8" y1="268.7" x2="210.2" y2="177.2"><stop offset="0" stop-color="#e2e2e2"/><stop offset="0.22" stop-color="#e6e6e6"/><stop offset="0.42" stop-color="#fbfbfb" stop-opacity="0.9"/><stop offset="0.6" stop-color="#fff" stop-opacity="0.85"/><stop offset="0.8" stop-color="#dde9f7"/><stop offset="1" stop-color="#dde9f7"/></linearGradient><linearGradient id="bs6" gradientUnits="userSpaceOnUse" x1="248.8" y1="268.7" x2="210.2" y2="177.2"><stop offset="0" stop-color="#c4c4c4"/><stop offset="0.5" stop-color="#d6d6d6"/><stop offset="0.75" stop-color="#b9cfe6"/><stop offset="1" stop-color="#b9cfe6"/></linearGradient><linearGradient id="bf7" gradientUnits="userSpaceOnUse" x1="245.3" y1="268.2" x2="216.5" y2="170.2"><stop offset="0" stop-color="#e2e2e2"/><stop offset="0.22" stop-color="#e6e6e6"/><stop offset="0.42" stop-color="#fbfbfb" stop-opacity="0.9"/><stop offset="0.6" stop-color="#fff" stop-opacity="0.85"/><stop offset="0.8" stop-color="#e6e6e6"/><stop offset="1" stop-color="#e6e6e6"/></linearGradient><linearGradient id="bs7" gradientUnits="userSpaceOnUse" x1="245.3" y1="268.2" x2="216.5" y2="170.2"><stop offset="0" stop-color="#c4c4c4"/><stop offset="0.5" stop-color="#d6d6d6"/><stop offset="0.75" stop-color="#c9c9c9"/><stop offset="1" stop-color="#c9c9c9"/></linearGradient><linearGradient id="bf8" gradientUnits="userSpaceOnUse" x1="242.1" y1="267.5" x2="220.8" y2="166.5"><stop offset="0" stop-color="#e2e2e2"/><stop offset="0.22" stop-color="#e6e6e6"/><stop offset="0.42" stop-color="#fbfbfb" stop-opacity="0.9"/><stop offset="0.6" stop-color="#fff" stop-opacity="0.85"/><stop offset="0.8" stop-color="#c3eae7"/><stop offset="1" stop-color="#c3eae7"/></linearGradient><linearGradient id="bs8" gradientUnits="userSpaceOnUse" x1="242.1" y1="267.5" x2="220.8" y2="166.5"><stop offset="0" stop-color="#c4c4c4"/><stop offset="0.5" stop-color="#d6d6d6"/><stop offset="0.75" stop-color="#8fd3ce"/><stop offset="1" stop-color="#8fd3ce"/></linearGradient><linearGradient id="bf9" gradientUnits="userSpaceOnUse" x1="239.5" y1="266.8" x2="223.7" y2="164.4"><stop offset="0" stop-color="#e2e2e2"/><stop offset="0.22" stop-color="#e6e6e6"/><stop offset="0.42" stop-color="#fbfbfb" stop-opacity="0.9"/><stop offset="0.6" stop-color="#fff" stop-opacity="0.85"/><stop offset="0.8" stop-color="#fbcfe2"/><stop offset="1" stop-color="#fbcfe2"/></linearGradient><linearGradient id="bs9" gradientUnits="userSpaceOnUse" x1="239.5" y1="266.8" x2="223.7" y2="164.4"><stop offset="0" stop-color="#c4c4c4"/><stop offset="0.5" stop-color="#d6d6d6"/><stop offset="0.75" stop-color="#e9a3c3"/><stop offset="1" stop-color="#e9a3c3"/></linearGradient><linearGradient id="bf10" gradientUnits="userSpaceOnUse" x1="237.3" y1="266.1" x2="227.3" y2="162.1"><stop offset="0" stop-color="#e2e2e2"/><stop offset="0.22" stop-color="#e6e6e6"/><stop offset="0.42" stop-color="#fbfbfb" stop-opacity="0.9"/><stop offset="0.6" stop-color="#fff" stop-opacity="0.85"/><stop offset="0.8" stop-color="#f3dfc0"/><stop offset="1" stop-color="#f3dfc0"/></linearGradient><linearGradient id="bs10" gradientUnits="userSpaceOnUse" x1="237.3" y1="266.1" x2="227.3" y2="162.1"><stop offset="0" stop-color="#c4c4c4"/><stop offset="0.5" stop-color="#d6d6d6"/><stop offset="0.75" stop-color="#e3c08c"/><stop offset="1" stop-color="#e3c08c"/></linearGradient><linearGradient id="bf11" gradientUnits="userSpaceOnUse" x1="235.7" y1="265.5" x2="231.2" y2="160.1"><stop offset="0" stop-color="#e2e2e2"/><stop offset="0.22" stop-color="#e6e6e6"/><stop offset="0.42" stop-color="#fbfbfb" stop-opacity="0.9"/><stop offset="0.6" stop-color="#fff" stop-opacity="0.85"/><stop offset="0.8" stop-color="#dde9f7"/><stop offset="1" stop-color="#dde9f7"/></linearGradient><linearGradient id="bs11" gradientUnits="userSpaceOnUse" x1="235.7" y1="265.5" x2="231.2" y2="160.1"><stop offset="0" stop-color="#c4c4c4"/><stop offset="0.5" stop-color="#d6d6d6"/><stop offset="0.75" stop-color="#b9cfe6"/><stop offset="1" stop-color="#b9cfe6"/></linearGradient><linearGradient id="bf12" gradientUnits="userSpaceOnUse" x1="234.3" y1="264.9" x2="236.3" y2="157.9"><stop offset="0" stop-color="#e2e2e2"/><stop offset="0.22" stop-color="#e6e6e6"/><stop offset="0.42" stop-color="#fbfbfb" stop-opacity="0.9"/><stop offset="0.6" stop-color="#fff" stop-opacity="0.85"/><stop offset="0.8" stop-color="#efedda"/><stop offset="1" stop-color="#efedda"/></linearGradient><linearGradient id="bs12" gradientUnits="userSpaceOnUse" x1="234.3" y1="264.9" x2="236.3" y2="157.9"><stop offset="0" stop-color="#c4c4c4"/><stop offset="0.5" stop-color="#d6d6d6"/><stop offset="0.75" stop-color="#d8d4b4"/><stop offset="1" stop-color="#d8d4b4"/></linearGradient><linearGradient id="bf13" gradientUnits="userSpaceOnUse" x1="233.1" y1="264.4" x2="243.7" y2="155.7"><stop offset="0" stop-color="#e2e2e2"/><stop offset="0.22" stop-color="#e6e6e6"/><stop offset="0.42" stop-color="#fbfbfb" stop-opacity="0.9"/><stop offset="0.6" stop-color="#fff" stop-opacity="0.85"/><stop offset="0.8" stop-color="#fbcfe2"/><stop offset="1" stop-color="#fbcfe2"/></linearGradient><linearGradient id="bs13" gradientUnits="userSpaceOnUse" x1="233.1" y1="264.4" x2="243.7" y2="155.7"><stop offset="0" stop-color="#c4c4c4"/><stop offset="0.5" stop-color="#d6d6d6"/><stop offset="0.75" stop-color="#e9a3c3"/><stop offset="1" stop-color="#e9a3c3"/></linearGradient><linearGradient id="bf14" gradientUnits="userSpaceOnUse" x1="232.1" y1="264.0" x2="249.3" y2="154.8"><stop offset="0" stop-color="#e2e2e2"/><stop offset="0.22" stop-color="#e6e6e6"/><stop offset="0.42" stop-color="#fbfbfb" stop-opacity="0.9"/><stop offset="0.6" stop-color="#fff" stop-opacity="0.85"/><stop offset="0.8" stop-color="#f3dfc0"/><stop offset="1" stop-color="#f3dfc0"/></linearGradient><linearGradient id="bs14" gradientUnits="userSpaceOnUse" x1="232.1" y1="264.0" x2="249.3" y2="154.8"><stop offset="0" stop-color="#c4c4c4"/><stop offset="0.5" stop-color="#d6d6d6"/><stop offset="0.75" stop-color="#e3c08c"/><stop offset="1" stop-color="#e3c08c"/></linearGradient><radialGradient id="bw" gradientUnits="userSpaceOnUse" cx="247" cy="213.8" r="27"><stop offset="0" stop-color="#fff" stop-opacity="0.9"/><stop offset="0.45" stop-color="#fff" stop-opacity="0.7"/><stop offset="1" stop-color="#fff" stop-opacity="0"/></radialGradient></defs><circle cx="256" cy="211.8" r="68" fill="#fff"/><path d="M254.22,143.82 A68,68 0 1 1 226.94,273.28 L231.13,264.42 A58.2,58.2 0 1 0 254.48,153.62 Z" fill="#f7f7f7" stroke="#d0d0d0" stroke-width="0.7" stroke-dasharray="2 1.4"/><path d="M254.50,154.42 A57.4,57.4 0 0 1 283.39,262.24 Q256,211.8 231.47,263.69 A57.4,57.4 0 0 1 214.71,251.67 Q256,211.8 254.50,154.42 Z" fill="url(#bf0)" stroke="url(#bs0)" stroke-width="0.6"/><path d="M283.39,262.24 A57.4,57.4 0 0 1 271.92,266.95 Q256,211.8 214.71,251.67 A57.4,57.4 0 0 1 203.24,234.41 Q256,211.8 283.39,262.24 Z" fill="url(#bf1)" stroke="url(#bs1)" stroke-width="0.55"/><path d="M271.92,266.95 A57.4,57.4 0 0 1 263.99,268.64 Q256,211.8 203.24,234.41 A57.4,57.4 0 0 1 198.98,218.40 Q256,211.8 271.92,266.95 Z" fill="url(#bf2)" stroke="url(#bs2)" stroke-width="0.55"/><path d="M263.99,268.64 A57.4,57.4 0 0 1 259.00,269.12 Q256,211.8 198.98,218.40 A57.4,57.4 0 0 1 199.52,201.54 Q256,211.8 263.99,268.64 Z" fill="url(#bf3)" stroke="url(#bs3)" stroke-width="0.55"/><path d="M259.00,269.12 A57.4,57.4 0 0 1 254.50,269.18 Q256,211.8 199.52,201.54 A57.4,57.4 0 0 1 203.81,187.91 Q256,211.8 259.00,269.12 Z" fill="url(#bf4)" stroke="url(#bs4)" stroke-width="0.55"/><path d="M254.50,269.18 A57.4,57.4 0 0 1 250.50,268.94 Q256,211.8 203.81,187.91 A57.4,57.4 0 0 1 207.06,181.81 Q256,211.8 254.50,269.18 Z" fill="url(#bf5)" stroke="url(#bs5)" stroke-width="0.55"/><path d="M250.50,268.94 A57.4,57.4 0 0 1 247.02,268.49 Q256,211.8 207.06,181.81 A57.4,57.4 0 0 1 213.75,172.95 Q256,211.8 250.50,268.94 Z" fill="url(#bf6)" stroke="url(#bs6)" stroke-width="0.55"/><path d="M247.02,268.49 A57.4,57.4 0 0 1 243.58,267.84 Q256,211.8 213.75,172.95 A57.4,57.4 0 0 1 219.41,167.57 Q256,211.8 247.02,268.49 Z" fill="url(#bf7)" stroke="url(#bs7)" stroke-width="0.55"/><path d="M243.58,267.84 A57.4,57.4 0 0 1 240.66,267.11 Q256,211.8 219.41,167.57 A57.4,57.4 0 0 1 222.18,165.42 Q256,211.8 243.58,267.84 Z" fill="url(#bf8)" stroke="url(#bs8)" stroke-width="0.55"/><path d="M240.66,267.11 A57.4,57.4 0 0 1 238.26,266.39 Q256,211.8 222.18,165.42 A57.4,57.4 0 0 1 225.16,163.39 Q256,211.8 240.66,267.11 Z" fill="url(#bf9)" stroke="url(#bs9)" stroke-width="0.55"/><path d="M238.26,266.39 A57.4,57.4 0 0 1 236.37,265.74 Q256,211.8 225.16,163.39 A57.4,57.4 0 0 1 229.41,160.93 Q256,211.8 238.26,266.39 Z" fill="url(#bf10)" stroke="url(#bs10)" stroke-width="0.55"/><path d="M236.37,265.74 A57.4,57.4 0 0 1 234.96,265.21 Q256,211.8 229.41,160.93 A57.4,57.4 0 0 1 232.93,159.24 Q256,211.8 236.37,265.74 Z" fill="url(#bf11)" stroke="url(#bs11)" stroke-width="0.55"/><path d="M234.96,265.21 A57.4,57.4 0 0 1 233.57,264.64 Q256,211.8 232.93,159.24 A57.4,57.4 0 0 1 239.70,156.76 Q256,211.8 234.96,265.21 Z" fill="url(#bf12)" stroke="url(#bs12)" stroke-width="0.55"/><path d="M233.57,264.64 A57.4,57.4 0 0 1 232.65,264.24 Q256,211.8 241.82,156.18 A57.4,57.4 0 0 1 245.54,155.36 Q256,211.8 233.57,264.64 Z" fill="url(#bf13)" stroke="url(#bs13)" stroke-width="0.55"/><path d="M232.65,264.24 A57.4,57.4 0 0 1 231.47,263.69 Q256,211.8 248.21,154.93 A57.4,57.4 0 0 1 250.30,154.68 Q256,211.8 232.65,264.24 Z" fill="url(#bf14)" stroke="url(#bs14)" stroke-width="0.55"/><circle cx="247" cy="213.8" r="27" fill="url(#bw)"/><path d="M254.50,154.42 A57.4,57.4 0 0 1 283.39,262.24 Q256,211.8 231.47,263.69 A57.4,57.4 0 0 1 214.71,251.67 Q256,211.8 254.50,154.42 Z" fill="none" stroke="url(#bs0)" stroke-width="0.4" stroke-opacity="0.7"/><path d="M283.39,262.24 A57.4,57.4 0 0 1 271.92,266.95 Q256,211.8 214.71,251.67 A57.4,57.4 0 0 1 203.24,234.41 Q256,211.8 283.39,262.24 Z" fill="none" stroke="url(#bs1)" stroke-width="0.4" stroke-opacity="0.7"/><path d="M271.92,266.95 A57.4,57.4 0 0 1 263.99,268.64 Q256,211.8 203.24,234.41 A57.4,57.4 0 0 1 198.98,218.40 Q256,211.8 271.92,266.95 Z" fill="none" stroke="url(#bs2)" stroke-width="0.4" stroke-opacity="0.7"/><path d="M263.99,268.64 A57.4,57.4 0 0 1 259.00,269.12 Q256,211.8 198.98,218.40 A57.4,57.4 0 0 1 199.52,201.54 Q256,211.8 263.99,268.64 Z" fill="none" stroke="url(#bs3)" stroke-width="0.4" stroke-opacity="0.7"/><path d="M259.00,269.12 A57.4,57.4 0 0 1 254.50,269.18 Q256,211.8 199.52,201.54 A57.4,57.4 0 0 1 203.81,187.91 Q256,211.8 259.00,269.12 Z" fill="none" stroke="url(#bs4)" stroke-width="0.4" stroke-opacity="0.7"/><path d="M254.50,269.18 A57.4,57.4 0 0 1 250.50,268.94 Q256,211.8 203.81,187.91 A57.4,57.4 0 0 1 207.06,181.81 Q256,211.8 254.50,269.18 Z" fill="none" stroke="url(#bs5)" stroke-width="0.4" stroke-opacity="0.7"/><path d="M250.50,268.94 A57.4,57.4 0 0 1 247.02,268.49 Q256,211.8 207.06,181.81 A57.4,57.4 0 0 1 213.75,172.95 Q256,211.8 250.50,268.94 Z" fill="none" stroke="url(#bs6)" stroke-width="0.4" stroke-opacity="0.7"/><path d="M247.02,268.49 A57.4,57.4 0 0 1 243.58,267.84 Q256,211.8 213.75,172.95 A57.4,57.4 0 0 1 219.41,167.57 Q256,211.8 247.02,268.49 Z" fill="none" stroke="url(#bs7)" stroke-width="0.4" stroke-opacity="0.7"/><path d="M243.58,267.84 A57.4,57.4 0 0 1 240.66,267.11 Q256,211.8 219.41,167.57 A57.4,57.4 0 0 1 222.18,165.42 Q256,211.8 243.58,267.84 Z" fill="none" stroke="url(#bs8)" stroke-width="0.4" stroke-opacity="0.7"/><path d="M240.66,267.11 A57.4,57.4 0 0 1 238.26,266.39 Q256,211.8 222.18,165.42 A57.4,57.4 0 0 1 225.16,163.39 Q256,211.8 240.66,267.11 Z" fill="none" stroke="url(#bs9)" stroke-width="0.4" stroke-opacity="0.7"/><path d="M238.26,266.39 A57.4,57.4 0 0 1 236.37,265.74 Q256,211.8 225.16,163.39 A57.4,57.4 0 0 1 229.41,160.93 Q256,211.8 238.26,266.39 Z" fill="none" stroke="url(#bs10)" stroke-width="0.4" stroke-opacity="0.7"/><path d="M236.37,265.74 A57.4,57.4 0 0 1 234.96,265.21 Q256,211.8 229.41,160.93 A57.4,57.4 0 0 1 232.93,159.24 Q256,211.8 236.37,265.74 Z" fill="none" stroke="url(#bs11)" stroke-width="0.4" stroke-opacity="0.7"/><path d="M234.96,265.21 A57.4,57.4 0 0 1 233.57,264.64 Q256,211.8 232.93,159.24 A57.4,57.4 0 0 1 239.70,156.76 Q256,211.8 234.96,265.21 Z" fill="none" stroke="url(#bs12)" stroke-width="0.4" stroke-opacity="0.7"/><path d="M233.57,264.64 A57.4,57.4 0 0 1 232.65,264.24 Q256,211.8 241.82,156.18 A57.4,57.4 0 0 1 245.54,155.36 Q256,211.8 233.57,264.64 Z" fill="none" stroke="url(#bs13)" stroke-width="0.4" stroke-opacity="0.7"/><path d="M232.65,264.24 A57.4,57.4 0 0 1 231.47,263.69 Q256,211.8 248.21,154.93 A57.4,57.4 0 0 1 250.30,154.68 Q256,211.8 232.65,264.24 Z" fill="none" stroke="url(#bs14)" stroke-width="0.4" stroke-opacity="0.7"/><path d="M199.52,201.54 A57.4,57.4 0 0 1 199.90,199.67 Q256,211.8 241.82,156.18 A57.4,57.4 0 0 1 242.89,155.92 Q256,211.8 199.52,201.54 Z" fill="#fbcfe2" fill-opacity="0.5" stroke="#e9a3c3" stroke-width="0.5" stroke-opacity="0.85"/><path d="M232.93,159.24 A57.4,57.4 0 0 1 234.03,158.77 Q256,211.8 214.71,251.67 A57.4,57.4 0 0 1 213.75,250.65 Q256,211.8 232.93,159.24 Z" fill="#efedda" fill-opacity="0.5" stroke="#d8d4b4" stroke-width="0.5" stroke-opacity="0.85"/><path d="M207.06,181.81 A57.4,57.4 0 0 1 207.75,180.71 Q256,211.8 229.41,160.93 A57.4,57.4 0 0 1 230.30,160.48 Q256,211.8 207.06,181.81 Z" fill="#dde9f7" fill-opacity="0.5" stroke="#b9cfe6" stroke-width="0.5" stroke-opacity="0.85"/><path d="M253.4,168.5 Q256.5,215 268.2,252.5 Q259,240 246.5,231 Q252.5,205 253.4,168.5 Z" fill="#fff" fill-opacity="0.95" stroke="#d0d0d0" stroke-width="0.4"/><path d="M249.25,144.14 A68,68 0 0 1 254.22,143.82 L254.48,153.62 A58.2,58.2 0 0 0 250.22,153.89 Z" fill="#d5d0a4"/><path d="M246.77,144.43 A68,68 0 0 1 249.25,144.14 L250.22,153.89 A58.2,58.2 0 0 0 248.10,154.14 Z" fill="#dca24f"/><path d="M243.61,144.94 A68,68 0 0 1 246.77,144.43 L248.10,154.14 A58.2,58.2 0 0 0 245.39,154.57 Z" fill="#7b7a3c"/><path d="M239.20,145.91 A68,68 0 0 1 243.61,144.94 L245.39,154.57 A58.2,58.2 0 0 0 241.62,155.40 Z" fill="#f072ab"/><path d="M236.69,146.60 A68,68 0 0 1 239.20,145.91 L241.62,155.40 A58.2,58.2 0 0 0 239.47,156.00 Z" fill="#f7f7f7" stroke="#d4d4d4" stroke-width="0.5" stroke-dasharray="2 1.4"/><path d="M228.67,149.53 A68,68 0 0 1 236.69,146.60 L239.47,156.00 A58.2,58.2 0 0 0 232.61,158.51 Z" fill="#d5d0a4"/><path d="M224.50,151.54 A68,68 0 0 1 228.67,149.53 L232.61,158.51 A58.2,58.2 0 0 0 229.04,160.22 Z" fill="#a4c8ec"/><path d="M219.46,154.45 A68,68 0 0 1 224.50,151.54 L229.04,160.22 A58.2,58.2 0 0 0 224.73,162.71 Z" fill="#dca24f"/><path d="M215.93,156.86 A68,68 0 0 1 219.46,154.45 L224.73,162.71 A58.2,58.2 0 0 0 221.71,164.77 Z" fill="#f072ab"/><path d="M212.66,159.41 A68,68 0 0 1 215.93,156.86 L221.71,164.77 A58.2,58.2 0 0 0 218.90,166.96 Z" fill="#5cc3bc"/><path d="M205.95,165.77 A68,68 0 0 1 212.66,159.41 L218.90,166.96 A58.2,58.2 0 0 0 213.16,172.41 Z" fill="#f7f7f7" stroke="#d4d4d4" stroke-width="0.5" stroke-dasharray="2 1.4"/><path d="M198.02,176.27 A68,68 0 0 1 205.95,165.77 L213.16,172.41 A58.2,58.2 0 0 0 206.38,181.39 Z" fill="#a4c8ec"/><path d="M194.17,183.49 A68,68 0 0 1 198.02,176.27 L206.38,181.39 A58.2,58.2 0 0 0 203.08,187.57 Z" fill="#7b7a3c"/><path d="M189.10,199.64 A68,68 0 0 1 194.17,183.49 L203.08,187.57 A58.2,58.2 0 0 0 198.74,201.39 Z" fill="#f072ab"/><path d="M188.45,219.62 A68,68 0 0 1 189.10,199.64 L198.74,201.39 A58.2,58.2 0 0 0 198.19,218.49 Z" fill="#f7f7f7" stroke="#d4d4d4" stroke-width="0.5" stroke-dasharray="2 1.4"/><path d="M193.50,238.59 A68,68 0 0 1 188.45,219.62 L198.19,218.49 A58.2,58.2 0 0 0 202.51,234.73 Z" fill="#a4c8ec"/><path d="M207.08,259.04 A68,68 0 0 1 193.50,238.59 L202.51,234.73 A58.2,58.2 0 0 0 214.13,252.23 Z" fill="#7b7a3c"/><path d="M226.94,273.28 A68,68 0 0 1 207.08,259.04 L214.13,252.23 A58.2,58.2 0 0 0 231.13,264.42 Z" fill="#5cc3bc"/><path d="M254.49,154.12 A57.699999999999996,57.699999999999996 0 1 1 231.34,263.97" fill="none" stroke="#b8b8b8" stroke-width="0.7" stroke-dasharray="2.2 1.4"/><text x="225.6" y="186.4" font-size="9.5" fill="#5a5a78" text-anchor="middle" transform="rotate(-55 225.6 186.4)" dy="3.2">3</text><text x="218.8" y="198.9" font-size="9.5" fill="#5a5a78" text-anchor="middle" transform="rotate(-20 218.8 198.9)" dy="3.2">4</text><text x="216.1" y="210.0" font-size="9.5" fill="#5a5a78" text-anchor="middle" transform="rotate(0 216.1 210.0)" dy="3.2">4</text><text x="217.6" y="221.8" font-size="9.5" fill="#5a5a78" text-anchor="middle" transform="rotate(-15 217.6 221.8)" dy="3.2">4</text><text x="223.3" y="233.4" font-size="9.5" fill="#5a5a78" text-anchor="middle" transform="rotate(-45 223.3 233.4)" dy="3.2">5</text><text x="233.1" y="243.6" font-size="9.5" fill="#5a5a78" text-anchor="middle" transform="rotate(-65 233.1 243.6)" dy="3.2">5</text><text x="298.1" y="221.8" font-size="9.5" fill="#666" text-anchor="middle" dy="3.2">49</text></svg>
<svg style="position:absolute;left:336px;top:139px" width="146" height="146" viewBox="336 139 146 146"><path d="M408.20,143.90 A68.1,68.1 0 1 1 376.65,272.35 L402.18,223.52 A13,13 0 1 0 408.20,199.00 Z" fill="#f6f6f6" stroke="#cfcfcf" stroke-width="0.7" stroke-dasharray="2 1.6"/><path d="M376.65,272.35 A68.1,68.1 0 0 1 381.92,149.18 L403.18,200.01 A13,13 0 0 0 402.18,223.52 Z" fill="#5cc3bc"/><path d="M381.92,149.18 A68.1,68.1 0 0 1 405.35,143.96 L407.66,199.01 A13,13 0 0 0 403.18,200.01 Z" fill="#f072ab"/><rect x="405.5" y="144" width="1.5" height="55.5" fill="#8a853e"/><rect x="407" y="143.9" width="1.9" height="55.5" fill="#c9caa8"/><circle cx="408.2" cy="212.3" r="13" fill="#fff" stroke="#e0e0e0" stroke-width="0.6" stroke-dasharray="2 1.6"/><text x="379.2" y="213.6" font-size="9" fill="#2f4a52" text-anchor="middle">36%</text><text x="435.8" y="222.2" font-size="9.5" fill="#444" text-anchor="middle" transform="rotate(10 435.8 219)" font-weight="700" fill-opacity="0.85">58%</text><text x="402.3" y="186.5" font-size="8.3" fill="#5a2a4a" text-anchor="middle" transform="rotate(80 402.3 186.5)" dy="3">6%</text></svg>
<svg style="position:absolute;left:119px;top:281px" width="52" height="16"><circle cx="8" cy="5.6" r="4.2" fill="none" stroke="#e1e3ec" stroke-width="1.1"/><circle cx="3" cy="11.4" r="2.2" fill="none" stroke="#e1e3ec" stroke-width="1"/><path d="M20.4 4.6 H28.6 M22.4 3 H26.6 M21.4 5 L22 13 H27 L27.6 5 M23.4 6.4 V11.6 M25.6 6.4 V11.6" fill="none" stroke="#e1e3ec" stroke-width="1.1"/><path d="M43 4 H37.6 V13 H46.6 V8 M41 10 L48 2.4" fill="none" stroke="#e1e3ec" stroke-width="1.2"/><path d="M50.2 1 V5" stroke="#e1e3ec" stroke-width="0.8"/></svg>
<svg style="position:absolute;left:271px;top:281px" width="52" height="16"><circle cx="8" cy="5.6" r="4.2" fill="none" stroke="#e1e3ec" stroke-width="1.1"/><circle cx="3" cy="11.4" r="2.2" fill="none" stroke="#e1e3ec" stroke-width="1"/><path d="M20.4 4.6 H28.6 M22.4 3 H26.6 M21.4 5 L22 13 H27 L27.6 5 M23.4 6.4 V11.6 M25.6 6.4 V11.6" fill="none" stroke="#e1e3ec" stroke-width="1.1"/><path d="M43 4 H37.6 V13 H46.6 V8 M41 10 L48 2.4" fill="none" stroke="#e1e3ec" stroke-width="1.2"/><path d="M50.2 1 V5" stroke="#e1e3ec" stroke-width="0.8"/></svg>
<svg style="position:absolute;left:423px;top:281px" width="52" height="16"><circle cx="8" cy="5.6" r="4.2" fill="none" stroke="#e1e3ec" stroke-width="1.1"/><circle cx="3" cy="11.4" r="2.2" fill="none" stroke="#e1e3ec" stroke-width="1"/><path d="M20.4 4.6 H28.6 M22.4 3 H26.6 M21.4 5 L22 13 H27 L27.6 5 M23.4 6.4 V11.6 M25.6 6.4 V11.6" fill="none" stroke="#e1e3ec" stroke-width="1.1"/><path d="M43 4 H37.6 V13 H46.6 V8 M41 10 L48 2.4" fill="none" stroke="#e1e3ec" stroke-width="1.2"/><path d="M50.2 1 V5" stroke="#e1e3ec" stroke-width="0.8"/></svg>
<div class="t" style="left:40.50px;top:369.00px;font-size:13px;line-height:13px;color:#4a4a4a;letter-spacing:0.008px;-webkit-text-stroke:0.32px #4a4a4a;">Total</div>
<svg style="position:absolute;left:131.85px;top:364.10px" width="210" height="210" viewBox="131.85 364.10 210 210"><path d="M178.69,527.26 A82.25,82.25 0 1 1 295.01,527.26 L276.06,508.31 A57.40,57.40 0 1 0 186.64,519.31 Z" fill="#b5c21c"/><path d="M242.23,462.78 L202.07,486.57 L162.68,511.71 L204.24,490.35 L245.02,467.63 A2.80,2.80 0 0 0 242.23,462.78 Z" fill="#777"/></svg>
<div class="t" style="left:40.50px;top:556.00px;font-size:13px;line-height:13px;color:#4a4a4a;letter-spacing:0.362px;-webkit-text-stroke:0.32px #4a4a4a;">14 Mbit/s</div>
<div class="t" style="left:162.50px;top:546.84px;font-size:12px;line-height:12px;color:#3a3a4a;letter-spacing:0.248px;">0 Mbit/s</div>
<div class="t" style="left:261.50px;top:546.84px;font-size:12px;line-height:12px;color:#3a3a4a;letter-spacing:0.164px;">250 Mbit/s</div>
<div style="position:absolute;left:35px;top:573px;width:301px;height:1px;background:#cfcfcf"></div>
<svg style="position:absolute;left:313.3px;top:560.2px" width="25.4" height="11.7" viewBox="0 0 24 11"><path d="M3.70,0.66 L5.10,0.66 L5.19,1.39 L6.18,1.80 L6.76,1.35 L7.75,2.34 L7.30,2.92 L7.71,3.91 L8.44,4.00 L8.44,5.40 L7.71,5.49 L7.30,6.48 L7.75,7.06 L6.76,8.05 L6.18,7.60 L5.19,8.01 L5.10,8.74 L3.70,8.74 L3.61,8.01 L2.62,7.60 L2.04,8.05 L1.05,7.06 L1.50,6.48 L1.09,5.49 L0.36,5.40 L0.36,4.00 L1.09,3.91 L1.50,2.92 L1.05,2.34 L2.04,1.35 L2.62,1.80 L3.61,1.39 Z M3.10,4.70 a1.3,1.3 0 1,0 2.6,0 a1.3,1.3 0 1,0 -2.6,0 Z" fill="#d3d4d9" fill-rule="evenodd"/><g transform="translate(1.6 0)"><path d="M11.4 0.6 H17 V1.9 H16 V4.2 L17.6 6 H10.8 L12.4 4.2 V1.9 H11.4 Z" fill="#d3d4d9"/><path d="M14.2 6 V9.2" stroke="#d3d4d9" stroke-width="1.1"/></g></svg>
<div class="t" style="left:347.30px;top:370.24px;font-size:10px;line-height:10px;color:#4a4a4a;letter-spacing:0.220px;-webkit-text-stroke:0.25px #4a4a4a;">Chat</div>
<div class="t" style="left:347.30px;top:413.24px;font-size:10px;line-height:10px;color:#4a4a4a;letter-spacing:0.474px;-webkit-text-stroke:0.25px #4a4a4a;">0 Mbit/s</div>
<svg style="position:absolute;left:428.20px;top:372.20px" width="58" height="58" viewBox="428.20 372.20 58 58"><path d="M442.14,416.26 A21.30,21.30 0 1 1 472.26,416.26 L467.35,411.35 A14.86,14.86 0 1 0 444.20,414.20 Z" fill="#b5c21c"/><path d="M458.06,399.35 L449.66,407.97 L441.54,416.86 L450.43,408.74 L459.05,400.34 A0.70,0.70 0 0 0 458.06,399.35 Z" fill="#555"/></svg>
<div style="position:absolute;left:342px;top:427px;width:148px;height:1px;background:#d0d0d0"></div>
<svg style="position:absolute;left:471px;top:415.5px" width="24.0" height="11.0" viewBox="0 0 24 11"><path d="M3.70,0.66 L5.10,0.66 L5.19,1.39 L6.18,1.80 L6.76,1.35 L7.75,2.34 L7.30,2.92 L7.71,3.91 L8.44,4.00 L8.44,5.40 L7.71,5.49 L7.30,6.48 L7.75,7.06 L6.76,8.05 L6.18,7.60 L5.19,8.01 L5.10,8.74 L3.70,8.74 L3.61,8.01 L2.62,7.60 L2.04,8.05 L1.05,7.06 L1.50,6.48 L1.09,5.49 L0.36,5.40 L0.36,4.00 L1.09,3.91 L1.50,2.92 L1.05,2.34 L2.04,1.35 L2.62,1.80 L3.61,1.39 Z M3.10,4.70 a1.3,1.3 0 1,0 2.6,0 a1.3,1.3 0 1,0 -2.6,0 Z" fill="#d3d4d9" fill-rule="evenodd"/><g transform="translate(0.0 0)"><path d="M11.4 0.6 H17 V1.9 H16 V4.2 L17.6 6 H10.8 L12.4 4.2 V1.9 H11.4 Z" fill="#d3d4d9"/><path d="M14.2 6 V9.2" stroke="#d3d4d9" stroke-width="1.1"/></g></svg>
<div class="t" style="left:501.30px;top:370.24px;font-size:10px;line-height:10px;color:#4a4a4a;letter-spacing:0.288px;-webkit-text-stroke:0.25px #4a4a4a;">Citrix</div>
<div class="t" style="left:501.30px;top:413.24px;font-size:10px;line-height:10px;color:#4a4a4a;letter-spacing:0.474px;-webkit-text-stroke:0.25px #4a4a4a;">0 Mbit/s</div>
<svg style="position:absolute;left:582.20px;top:372.20px" width="58" height="58" viewBox="582.20 372.20 58 58"><path d="M596.14,416.26 A21.30,21.30 0 1 1 626.26,416.26 L621.35,411.35 A14.86,14.86 0 1 0 598.20,414.20 Z" fill="#b5c21c"/><path d="M612.06,399.35 L603.66,407.97 L595.54,416.86 L604.43,408.74 L613.05,400.34 A0.70,0.70 0 0 0 612.06,399.35 Z" fill="#555"/></svg>
<div style="position:absolute;left:496px;top:427px;width:148px;height:1px;background:#d0d0d0"></div>
<svg style="position:absolute;left:625px;top:415.5px" width="24.0" height="11.0" viewBox="0 0 24 11"><path d="M3.70,0.66 L5.10,0.66 L5.19,1.39 L6.18,1.80 L6.76,1.35 L7.75,2.34 L7.30,2.92 L7.71,3.91 L8.44,4.00 L8.44,5.40 L7.71,5.49 L7.30,6.48 L7.75,7.06 L6.76,8.05 L6.18,7.60 L5.19,8.01 L5.10,8.74 L3.70,8.74 L3.61,8.01 L2.62,7.60 L2.04,8.05 L1.05,7.06 L1.50,6.48 L1.09,5.49 L0.36,5.40 L0.36,4.00 L1.09,3.91 L1.50,2.92 L1.05,2.34 L2.04,1.35 L2.62,1.80 L3.61,1.39 Z M3.10,4.70 a1.3,1.3 0 1,0 2.6,0 a1.3,1.3 0 1,0 -2.6,0 Z" fill="#d3d4d9" fill-rule="evenodd"/><g transform="translate(0.0 0)"><path d="M11.4 0.6 H17 V1.9 H16 V4.2 L17.6 6 H10.8 L12.4 4.2 V1.9 H11.4 Z" fill="#d3d4d9"/><path d="M14.2 6 V9.2" stroke="#d3d4d9" stroke-width="1.1"/></g></svg>
<div class="t" style="left:655.30px;top:370.24px;font-size:10px;line-height:10px;color:#4a4a4a;letter-spacing:0.262px;-webkit-text-stroke:0.25px #4a4a4a;">FTP/P2P</div>
<div class="t" style="left:655.30px;top:413.24px;font-size:10px;line-height:10px;color:#4a4a4a;letter-spacing:0.427px;-webkit-text-stroke:0.25px #4a4a4a;">0.02 Mbit/s</div>
<svg style="position:absolute;left:736.20px;top:372.20px" width="58" height="58" viewBox="736.20 372.20 58 58"><path d="M750.14,416.26 A21.30,21.30 0 1 1 780.26,416.26 L775.35,411.35 A14.86,14.86 0 1 0 752.20,414.20 Z" fill="#b5c21c"/><path d="M766.39,399.54 L756.53,406.44 L746.88,413.65 L757.14,407.34 L767.18,400.70 A0.70,0.70 0 0 0 766.39,399.54 Z" fill="#555"/></svg>
<div style="position:absolute;left:650px;top:427px;width:148px;height:1px;background:#d0d0d0"></div>
<svg style="position:absolute;left:779px;top:415.5px" width="24.0" height="11.0" viewBox="0 0 24 11"><path d="M3.70,0.66 L5.10,0.66 L5.19,1.39 L6.18,1.80 L6.76,1.35 L7.75,2.34 L7.30,2.92 L7.71,3.91 L8.44,4.00 L8.44,5.40 L7.71,5.49 L7.30,6.48 L7.75,7.06 L6.76,8.05 L6.18,7.60 L5.19,8.01 L5.10,8.74 L3.70,8.74 L3.61,8.01 L2.62,7.60 L2.04,8.05 L1.05,7.06 L1.50,6.48 L1.09,5.49 L0.36,5.40 L0.36,4.00 L1.09,3.91 L1.50,2.92 L1.05,2.34 L2.04,1.35 L2.62,1.80 L3.61,1.39 Z M3.10,4.70 a1.3,1.3 0 1,0 2.6,0 a1.3,1.3 0 1,0 -2.6,0 Z" fill="#d3d4d9" fill-rule="evenodd"/><g transform="translate(0.0 0)"><path d="M11.4 0.6 H17 V1.9 H16 V4.2 L17.6 6 H10.8 L12.4 4.2 V1.9 H11.4 Z" fill="#d3d4d9"/><path d="M14.2 6 V9.2" stroke="#d3d4d9" stroke-width="1.1"/></g></svg>
<div class="t" style="left:347.30px;top:443.24px;font-size:10px;line-height:10px;color:#4a4a4a;letter-spacing:0.314px;-webkit-text-stroke:0.25px #4a4a4a;">Infrastructure</div>
<div class="t" style="left:347.30px;top:486.24px;font-size:10px;line-height:10px;color:#4a4a4a;letter-spacing:0.417px;-webkit-text-stroke:0.25px #4a4a4a;">0.93 Mbit/s</div>
<svg style="position:absolute;left:428.20px;top:445.20px" width="58" height="58" viewBox="428.20 445.20 58 58"><path d="M442.14,489.26 A21.30,21.30 0 1 1 472.26,489.26 L467.35,484.35 A14.86,14.86 0 1 0 444.20,487.20 Z" fill="#b5c21c"/><path d="M459.21,474.57 L448.77,468.58 L438.13,462.92 L448.21,469.52 L458.49,475.78 A0.70,0.70 0 0 0 459.21,474.57 Z" fill="#555"/></svg>
<div style="position:absolute;left:342px;top:500px;width:148px;height:1px;background:#d0d0d0"></div>
<svg style="position:absolute;left:471px;top:488.5px" width="24.0" height="11.0" viewBox="0 0 24 11"><path d="M3.70,0.66 L5.10,0.66 L5.19,1.39 L6.18,1.80 L6.76,1.35 L7.75,2.34 L7.30,2.92 L7.71,3.91 L8.44,4.00 L8.44,5.40 L7.71,5.49 L7.30,6.48 L7.75,7.06 L6.76,8.05 L6.18,7.60 L5.19,8.01 L5.10,8.74 L3.70,8.74 L3.61,8.01 L2.62,7.60 L2.04,8.05 L1.05,7.06 L1.50,6.48 L1.09,5.49 L0.36,5.40 L0.36,4.00 L1.09,3.91 L1.50,2.92 L1.05,2.34 L2.04,1.35 L2.62,1.80 L3.61,1.39 Z M3.10,4.70 a1.3,1.3 0 1,0 2.6,0 a1.3,1.3 0 1,0 -2.6,0 Z" fill="#d3d4d9" fill-rule="evenodd"/><g transform="translate(0.0 0)"><path d="M11.4 0.6 H17 V1.9 H16 V4.2 L17.6 6 H10.8 L12.4 4.2 V1.9 H11.4 Z" fill="#d3d4d9"/><path d="M14.2 6 V9.2" stroke="#d3d4d9" stroke-width="1.1"/></g></svg>
<div class="t" style="left:501.30px;top:443.24px;font-size:10px;line-height:10px;color:#4a4a4a;letter-spacing:0.466px;-webkit-text-stroke:0.25px #4a4a4a;">Mail</div>
<div class="t" style="left:501.30px;top:486.24px;font-size:10px;line-height:10px;color:#4a4a4a;letter-spacing:0.408px;-webkit-text-stroke:0.25px #4a4a4a;">0.10 Mbit/s</div>
<svg style="position:absolute;left:582.20px;top:445.20px" width="58" height="58" viewBox="582.20 445.20 58 58"><path d="M596.14,489.26 A21.30,21.30 0 1 1 626.26,489.26 L621.35,484.35 A14.86,14.86 0 1 0 598.20,487.20 Z" fill="#b5c21c"/><path d="M612.53,472.65 L602.11,478.68 L591.89,485.05 L602.65,479.63 L613.21,473.87 A0.70,0.70 0 0 0 612.53,472.65 Z" fill="#555"/></svg>
<div style="position:absolute;left:496px;top:500px;width:148px;height:1px;background:#d0d0d0"></div>
<svg style="position:absolute;left:625px;top:488.5px" width="24.0" height="11.0" viewBox="0 0 24 11"><path d="M3.70,0.66 L5.10,0.66 L5.19,1.39 L6.18,1.80 L6.76,1.35 L7.75,2.34 L7.30,2.92 L7.71,3.91 L8.44,4.00 L8.44,5.40 L7.71,5.49 L7.30,6.48 L7.75,7.06 L6.76,8.05 L6.18,7.60 L5.19,8.01 L5.10,8.74 L3.70,8.74 L3.61,8.01 L2.62,7.60 L2.04,8.05 L1.05,7.06 L1.50,6.48 L1.09,5.49 L0.36,5.40 L0.36,4.00 L1.09,3.91 L1.50,2.92 L1.05,2.34 L2.04,1.35 L2.62,1.80 L3.61,1.39 Z M3.10,4.70 a1.3,1.3 0 1,0 2.6,0 a1.3,1.3 0 1,0 -2.6,0 Z" fill="#d3d4d9" fill-rule="evenodd"/><g transform="translate(0.0 0)"><path d="M11.4 0.6 H17 V1.9 H16 V4.2 L17.6 6 H10.8 L12.4 4.2 V1.9 H11.4 Z" fill="#d3d4d9"/><path d="M14.2 6 V9.2" stroke="#d3d4d9" stroke-width="1.1"/></g></svg>
<div class="t" style="left:655.30px;top:443.24px;font-size:10px;line-height:10px;color:#4a4a4a;letter-spacing:0.006px;-webkit-text-stroke:0.25px #4a4a4a;">NetBIOS</div>
<div class="t" style="left:655.30px;top:486.24px;font-size:10px;line-height:10px;color:#4a4a4a;letter-spacing:0.329px;-webkit-text-stroke:0.25px #4a4a4a;">&lt; 0.01 Mbit/s</div>
<svg style="position:absolute;left:736.20px;top:445.20px" width="58" height="58" viewBox="736.20 445.20 58 58"><path d="M750.14,489.26 A21.30,21.30 0 1 1 780.26,489.26 L775.35,484.35 A14.86,14.86 0 1 0 752.20,487.20 Z" fill="#b5c21c"/><path d="M766.06,472.35 L757.66,480.97 L749.54,489.86 L758.43,481.74 L767.05,473.34 A0.70,0.70 0 0 0 766.06,472.35 Z" fill="#555"/></svg>
<div style="position:absolute;left:650px;top:500px;width:148px;height:1px;background:#d0d0d0"></div>
<svg style="position:absolute;left:779px;top:488.5px" width="24.0" height="11.0" viewBox="0 0 24 11"><path d="M3.70,0.66 L5.10,0.66 L5.19,1.39 L6.18,1.80 L6.76,1.35 L7.75,2.34 L7.30,2.92 L7.71,3.91 L8.44,4.00 L8.44,5.40 L7.71,5.49 L7.30,6.48 L7.75,7.06 L6.76,8.05 L6.18,7.60 L5.19,8.01 L5.10,8.74 L3.70,8.74 L3.61,8.01 L2.62,7.60 L2.04,8.05 L1.05,7.06 L1.50,6.48 L1.09,5.49 L0.36,5.40 L0.36,4.00 L1.09,3.91 L1.50,2.92 L1.05,2.34 L2.04,1.35 L2.62,1.80 L3.61,1.39 Z M3.10,4.70 a1.3,1.3 0 1,0 2.6,0 a1.3,1.3 0 1,0 -2.6,0 Z" fill="#d3d4d9" fill-rule="evenodd"/><g transform="translate(0.0 0)"><path d="M11.4 0.6 H17 V1.9 H16 V4.2 L17.6 6 H10.8 L12.4 4.2 V1.9 H11.4 Z" fill="#d3d4d9"/><path d="M14.2 6 V9.2" stroke="#d3d4d9" stroke-width="1.1"/></g></svg>
<div class="t" style="left:347.30px;top:516.24px;font-size:10px;line-height:10px;color:#4a4a4a;letter-spacing:0.038px;-webkit-text-stroke:0.25px #4a4a4a;">Other</div>
<div class="t" style="left:347.30px;top:559.24px;font-size:10px;line-height:10px;color:#4a4a4a;letter-spacing:0.474px;-webkit-text-stroke:0.25px #4a4a4a;">0 Mbit/s</div>
<svg style="position:absolute;left:428.20px;top:518.20px" width="58" height="58" viewBox="428.20 518.20 58 58"><path d="M442.14,562.26 A21.30,21.30 0 1 1 472.26,562.26 L467.35,557.35 A14.86,14.86 0 1 0 444.20,560.20 Z" fill="#b5c21c"/><path d="M458.06,545.35 L449.66,553.97 L441.54,562.86 L450.43,554.74 L459.05,546.34 A0.70,0.70 0 0 0 458.06,545.35 Z" fill="#555"/></svg>
<div style="position:absolute;left:342px;top:573px;width:148px;height:1px;background:#d0d0d0"></div>
<svg style="position:absolute;left:471px;top:561.5px" width="24.0" height="11.0" viewBox="0 0 24 11"><path d="M3.70,0.66 L5.10,0.66 L5.19,1.39 L6.18,1.80 L6.76,1.35 L7.75,2.34 L7.30,2.92 L7.71,3.91 L8.44,4.00 L8.44,5.40 L7.71,5.49 L7.30,6.48 L7.75,7.06 L6.76,8.05 L6.18,7.60 L5.19,8.01 L5.10,8.74 L3.70,8.74 L3.61,8.01 L2.62,7.60 L2.04,8.05 L1.05,7.06 L1.50,6.48 L1.09,5.49 L0.36,5.40 L0.36,4.00 L1.09,3.91 L1.50,2.92 L1.05,2.34 L2.04,1.35 L2.62,1.80 L3.61,1.39 Z M3.10,4.70 a1.3,1.3 0 1,0 2.6,0 a1.3,1.3 0 1,0 -2.6,0 Z" fill="#d3d4d9" fill-rule="evenodd"/><g transform="translate(0.0 0)"><path d="M11.4 0.6 H17 V1.9 H16 V4.2 L17.6 6 H10.8 L12.4 4.2 V1.9 H11.4 Z" fill="#d3d4d9"/><path d="M14.2 6 V9.2" stroke="#d3d4d9" stroke-width="1.1"/></g></svg>
<div class="t" style="left:501.30px;top:516.24px;font-size:10px;line-height:10px;color:#4a4a4a;letter-spacing:0.191px;-webkit-text-stroke:0.25px #4a4a4a;">Remote Control</div>
<div class="t" style="left:501.30px;top:559.24px;font-size:10px;line-height:10px;color:#4a4a4a;letter-spacing:0.474px;-webkit-text-stroke:0.25px #4a4a4a;">0 Mbit/s</div>
<svg style="position:absolute;left:582.20px;top:518.20px" width="58" height="58" viewBox="582.20 518.20 58 58"><path d="M596.14,562.26 A21.30,21.30 0 1 1 626.26,562.26 L621.35,557.35 A14.86,14.86 0 1 0 598.20,560.20 Z" fill="#b5c21c"/><path d="M612.06,545.35 L603.66,553.97 L595.54,562.86 L604.43,554.74 L613.05,546.34 A0.70,0.70 0 0 0 612.06,545.35 Z" fill="#555"/></svg>
<div style="position:absolute;left:496px;top:573px;width:148px;height:1px;background:#d0d0d0"></div>
<svg style="position:absolute;left:625px;top:561.5px" width="24.0" height="11.0" viewBox="0 0 24 11"><path d="M3.70,0.66 L5.10,0.66 L5.19,1.39 L6.18,1.80 L6.76,1.35 L7.75,2.34 L7.30,2.92 L7.71,3.91 L8.44,4.00 L8.44,5.40 L7.71,5.49 L7.30,6.48 L7.75,7.06 L6.76,8.05 L6.18,7.60 L5.19,8.01 L5.10,8.74 L3.70,8.74 L3.61,8.01 L2.62,7.60 L2.04,8.05 L1.05,7.06 L1.50,6.48 L1.09,5.49 L0.36,5.40 L0.36,4.00 L1.09,3.91 L1.50,2.92 L1.05,2.34 L2.04,1.35 L2.62,1.80 L3.61,1.39 Z M3.10,4.70 a1.3,1.3 0 1,0 2.6,0 a1.3,1.3 0 1,0 -2.6,0 Z" fill="#d3d4d9" fill-rule="evenodd"/><g transform="translate(0.0 0)"><path d="M11.4 0.6 H17 V1.9 H16 V4.2 L17.6 6 H10.8 L12.4 4.2 V1.9 H11.4 Z" fill="#d3d4d9"/><path d="M14.2 6 V9.2" stroke="#d3d4d9" stroke-width="1.1"/></g></svg>
<div class="t" style="left:655.30px;top:516.24px;font-size:10px;line-height:10px;color:#4a4a4a;letter-spacing:0.377px;-webkit-text-stroke:0.25px #4a4a4a;">Various</div>
<div class="t" style="left:655.30px;top:559.24px;font-size:10px;line-height:10px;color:#4a4a4a;letter-spacing:0.427px;-webkit-text-stroke:0.25px #4a4a4a;">8.10 Mbit/s</div>
<svg style="position:absolute;left:736.20px;top:518.20px" width="58" height="58" viewBox="736.20 518.20 58 58"><path d="M750.14,562.26 A21.30,21.30 0 1 1 780.26,562.26 L775.35,557.35 A14.86,14.86 0 1 0 752.20,560.20 Z" fill="#b5c21c"/><path d="M766.68,545.80 L755.70,550.72 L744.87,556.00 L756.13,551.72 L767.24,547.08 A0.70,0.70 0 0 0 766.68,545.80 Z" fill="#555"/></svg>
<div style="position:absolute;left:650px;top:573px;width:148px;height:1px;background:#d0d0d0"></div>
<svg style="position:absolute;left:779px;top:561.5px" width="24.0" height="11.0" viewBox="0 0 24 11"><path d="M3.70,0.66 L5.10,0.66 L5.19,1.39 L6.18,1.80 L6.76,1.35 L7.75,2.34 L7.30,2.92 L7.71,3.91 L8.44,4.00 L8.44,5.40 L7.71,5.49 L7.30,6.48 L7.75,7.06 L6.76,8.05 L6.18,7.60 L5.19,8.01 L5.10,8.74 L3.70,8.74 L3.61,8.01 L2.62,7.60 L2.04,8.05 L1.05,7.06 L1.50,6.48 L1.09,5.49 L0.36,5.40 L0.36,4.00 L1.09,3.91 L1.50,2.92 L1.05,2.34 L2.04,1.35 L2.62,1.80 L3.61,1.39 Z M3.10,4.70 a1.3,1.3 0 1,0 2.6,0 a1.3,1.3 0 1,0 -2.6,0 Z" fill="#d3d4d9" fill-rule="evenodd"/><g transform="translate(0.0 0)"><path d="M11.4 0.6 H17 V1.9 H16 V4.2 L17.6 6 H10.8 L12.4 4.2 V1.9 H11.4 Z" fill="#d3d4d9"/><path d="M14.2 6 V9.2" stroke="#d3d4d9" stroke-width="1.1"/></g></svg>
<div class="t" style="left:40.30px;top:589.24px;font-size:10px;line-height:10px;color:#4a4a4a;letter-spacing:-0.606px;-webkit-text-stroke:0.25px #4a4a4a;">WWW</div>
<div class="t" style="left:40.30px;top:632.24px;font-size:10px;line-height:10px;color:#4a4a4a;letter-spacing:0.408px;-webkit-text-stroke:0.25px #4a4a4a;">5.15 Mbit/s</div>
<svg style="position:absolute;left:121.20px;top:591.20px" width="58" height="58" viewBox="121.20 591.20 58 58"><path d="M135.14,635.26 A21.30,21.30 0 1 1 165.26,635.26 L160.35,630.35 A14.86,14.86 0 1 0 137.20,633.20 Z" fill="#b5c21c"/><path d="M151.68,618.80 L140.70,623.72 L129.87,629.00 L141.13,624.72 L152.24,620.08 A0.70,0.70 0 0 0 151.68,618.80 Z" fill="#555"/></svg>
<div style="position:absolute;left:35px;top:646px;width:148px;height:1px;background:#d0d0d0"></div>
<svg style="position:absolute;left:164px;top:634.5px" width="24.0" height="11.0" viewBox="0 0 24 11"><path d="M3.70,0.66 L5.10,0.66 L5.19,1.39 L6.18,1.80 L6.76,1.35 L7.75,2.34 L7.30,2.92 L7.71,3.91 L8.44,4.00 L8.44,5.40 L7.71,5.49 L7.30,6.48 L7.75,7.06 L6.76,8.05 L6.18,7.60 L5.19,8.01 L5.10,8.74 L3.70,8.74 L3.61,8.01 L2.62,7.60 L2.04,8.05 L1.05,7.06 L1.50,6.48 L1.09,5.49 L0.36,5.40 L0.36,4.00 L1.09,3.91 L1.50,2.92 L1.05,2.34 L2.04,1.35 L2.62,1.80 L3.61,1.39 Z M3.10,4.70 a1.3,1.3 0 1,0 2.6,0 a1.3,1.3 0 1,0 -2.6,0 Z" fill="#d3d4d9" fill-rule="evenodd"/><g transform="translate(0.0 0)"><path d="M11.4 0.6 H17 V1.9 H16 V4.2 L17.6 6 H10.8 L12.4 4.2 V1.9 H11.4 Z" fill="#d3d4d9"/><path d="M14.2 6 V9.2" stroke="#d3d4d9" stroke-width="1.1"/></g></svg>
<div class="t" style="left:60.00px;top:715.00px;font-size:13px;line-height:13px;color:#1c1c2c;letter-spacing:-0.132px;-webkit-text-stroke:0.4px #1c1c2c;">Channel</div>
<svg style="position:absolute;left:112px;top:719px" width="10" height="6"><path d="M0.8 0.8 H8.8 L4.8 5 Z" fill="#1c1c2c"/></svg>
<div class="t" style="left:236.70px;top:715.00px;font-size:13px;line-height:13px;color:#1c1c2c;-webkit-text-stroke:0.3px #1c1c2c;">ID</div>
<svg style="position:absolute;left:254.5px;top:714px" width="9" height="12"><path d="M0.1 4.8 L4.1 0.1 L8.1 4.8 Z M0.1 6.4 L4.1 11.1 L8.1 6.4 Z" fill="#d2d2d2"/></svg>
<div class="t" style="left:286.30px;top:715.00px;font-size:13px;line-height:13px;color:#1c1c2c;letter-spacing:0.003px;-webkit-text-stroke:0.4px #1c1c2c;">Last Value</div>
<div class="t" style="left:292.50px;top:730.00px;font-size:13px;line-height:13px;color:#1c1c2c;letter-spacing:0.092px;-webkit-text-stroke:0.4px #1c1c2c;">(volume)</div>
<svg style="position:absolute;left:337px;top:743.5px" width="9" height="12"><path d="M0.1 4.8 L4.1 0.1 L8.1 4.8 Z M0.1 6.4 L4.1 11.1 L8.1 6.4 Z" fill="#d2d2d2"/></svg>
<div class="t" style="left:368.20px;top:715.00px;font-size:13px;line-height:13px;color:#1c1c2c;letter-spacing:-0.047px;-webkit-text-stroke:0.4px #1c1c2c;">Last Value</div>
<div class="t" style="left:369.00px;top:730.00px;font-size:13px;line-height:13px;color:#1c1c2c;letter-spacing:-0.083px;-webkit-text-stroke:0.4px #1c1c2c;">(speed)</div>
<svg style="position:absolute;left:418.5px;top:729px" width="9" height="12"><path d="M0.1 4.8 L4.1 0.1 L8.1 4.8 Z M0.1 6.4 L4.1 11.1 L8.1 6.4 Z" fill="#d2d2d2"/></svg>
<div class="t" style="left:511.60px;top:715.00px;font-size:13px;line-height:13px;color:#1c1c2c;letter-spacing:0.254px;-webkit-text-stroke:0.4px #1c1c2c;">Minimum</div>
<svg style="position:absolute;left:572px;top:714px" width="9" height="12"><path d="M0.1 4.8 L4.1 0.1 L8.1 4.8 Z M0.1 6.4 L4.1 11.1 L8.1 6.4 Z" fill="#d2d2d2"/></svg>
<div class="t" style="left:661.20px;top:715.00px;font-size:13px;line-height:13px;color:#1c1c2c;letter-spacing:0.238px;-webkit-text-stroke:0.4px #1c1c2c;">Maximum</div>
<svg style="position:absolute;left:724.7px;top:714px" width="9" height="12"><path d="M0.1 4.8 L4.1 0.1 L8.1 4.8 Z M0.1 6.4 L4.1 11.1 L8.1 6.4 Z" fill="#d2d2d2"/></svg>
<div style="position:absolute;left:50px;top:762px;width:825px;height:1px;background:#e3e3e3"></div>
<div style="position:absolute;left:50px;top:795px;width:825px;height:1px;background:#e3e3e3"></div>
<div style="position:absolute;left:50px;top:828px;width:825px;height:1px;background:#e3e3e3"></div>
<div style="position:absolute;left:50px;top:861px;width:825px;height:1px;background:#e3e3e3"></div>
<div style="position:absolute;left:50px;top:894px;width:825px;height:1px;background:#e3e3e3"></div>
<div style="position:absolute;left:50px;top:927px;width:825px;height:1px;background:#e3e3e3"></div>
<div class="t" style="left:60.20px;top:778.00px;font-size:13px;line-height:13px;color:#4e4e56;letter-spacing:0.082px;">Chat</div>
<div class="t" style="left:236.08px;top:778.00px;font-size:13px;line-height:13px;color:#4e4e56;">3004</div>
<div class="t" style="left:297.79px;top:778.00px;font-size:13px;line-height:13px;color:#4e4e56;letter-spacing:0.204px;">0 MByte</div>
<div class="t" style="left:381.07px;top:778.00px;font-size:13px;line-height:13px;color:#4e4e56;letter-spacing:0.228px;">0 Mbit/s</div>
<div class="t" style="left:534.44px;top:778.00px;font-size:13px;line-height:13px;color:#4e4e56;letter-spacing:0.256px;">0 Mbit/s</div>
<div class="t" style="left:669.07px;top:778.00px;font-size:13px;line-height:13px;color:#4e4e56;letter-spacing:0.231px;">0.54 Mbit/s</div>
<svg style="position:absolute;left:802px;top:776px" width="15" height="14"><path d="M8.07,-0.03 L9.73,-0.03 L9.83,0.81 L10.99,1.29 L11.66,0.77 L12.83,1.94 L12.31,2.61 L12.79,3.77 L13.63,3.87 L13.63,5.53 L12.79,5.63 L12.31,6.79 L12.83,7.46 L11.66,8.63 L10.99,8.11 L9.83,8.59 L9.73,9.43 L8.07,9.43 L7.97,8.59 L6.81,8.11 L6.14,8.63 L4.97,7.46 L5.49,6.79 L5.01,5.63 L4.17,5.53 L4.17,3.87 L5.01,3.77 L5.49,2.61 L4.97,1.94 L6.14,0.77 L6.81,1.29 L7.97,0.81 Z M6.85,4.70 a2.05,2.05 0 1,0 4.1,0 a2.05,2.05 0 1,0 -4.1,0 Z" fill="#3c3c3c" fill-rule="evenodd"/><path d="M2.53,7.56 L3.67,7.56 L3.71,8.18 L4.45,8.54 L4.97,8.18 L5.68,9.07 L5.21,9.50 L5.40,10.30 L6.00,10.48 L5.75,11.59 L5.13,11.49 L4.61,12.13 L4.85,12.72 L3.82,13.21 L3.51,12.66 L2.69,12.66 L2.38,13.21 L1.35,12.72 L1.59,12.13 L1.07,11.49 L0.45,11.59 L0.20,10.48 L0.80,10.30 L0.99,9.50 L0.52,9.07 L1.23,8.18 L1.75,8.54 L2.49,8.18 Z M2.10,10.40 a1.0,1.0 0 1,0 2.0,0 a1.0,1.0 0 1,0 -2.0,0 Z" fill="#3c3c3c" fill-rule="evenodd"/></svg>
<div class="t" style="left:60.20px;top:811.00px;font-size:13px;line-height:13px;color:#4e4e56;letter-spacing:0.059px;">Citrix</div>
<div class="t" style="left:236.08px;top:811.00px;font-size:13px;line-height:13px;color:#4e4e56;">3010</div>
<div class="t" style="left:297.79px;top:811.00px;font-size:13px;line-height:13px;color:#4e4e56;letter-spacing:0.204px;">0 MByte</div>
<div class="t" style="left:381.07px;top:811.00px;font-size:13px;line-height:13px;color:#4e4e56;letter-spacing:0.228px;">0 Mbit/s</div>
<div class="t" style="left:534.44px;top:811.00px;font-size:13px;line-height:13px;color:#4e4e56;letter-spacing:0.256px;">0 Mbit/s</div>
<div class="t" style="left:657.42px;top:811.00px;font-size:13px;line-height:13px;color:#4e4e56;letter-spacing:0.230px;">&lt; 0.01 Mbit/s</div>
<svg style="position:absolute;left:802px;top:809px" width="15" height="14"><path d="M8.07,-0.03 L9.73,-0.03 L9.83,0.81 L10.99,1.29 L11.66,0.77 L12.83,1.94 L12.31,2.61 L12.79,3.77 L13.63,3.87 L13.63,5.53 L12.79,5.63 L12.31,6.79 L12.83,7.46 L11.66,8.63 L10.99,8.11 L9.83,8.59 L9.73,9.43 L8.07,9.43 L7.97,8.59 L6.81,8.11 L6.14,8.63 L4.97,7.46 L5.49,6.79 L5.01,5.63 L4.17,5.53 L4.17,3.87 L5.01,3.77 L5.49,2.61 L4.97,1.94 L6.14,0.77 L6.81,1.29 L7.97,0.81 Z M6.85,4.70 a2.05,2.05 0 1,0 4.1,0 a2.05,2.05 0 1,0 -4.1,0 Z" fill="#3c3c3c" fill-rule="evenodd"/><path d="M2.53,7.56 L3.67,7.56 L3.71,8.18 L4.45,8.54 L4.97,8.18 L5.68,9.07 L5.21,9.50 L5.40,10.30 L6.00,10.48 L5.75,11.59 L5.13,11.49 L4.61,12.13 L4.85,12.72 L3.82,13.21 L3.51,12.66 L2.69,12.66 L2.38,13.21 L1.35,12.72 L1.59,12.13 L1.07,11.49 L0.45,11.59 L0.20,10.48 L0.80,10.30 L0.99,9.50 L0.52,9.07 L1.23,8.18 L1.75,8.54 L2.49,8.18 Z M2.10,10.40 a1.0,1.0 0 1,0 2.0,0 a1.0,1.0 0 1,0 -2.0,0 Z" fill="#3c3c3c" fill-rule="evenodd"/></svg>
<div class="t" style="left:60.20px;top:844.00px;font-size:13px;line-height:13px;color:#4e4e56;letter-spacing:0.087px;">Downtime</div>
<div class="t" style="left:253.44px;top:844.00px;font-size:13px;line-height:13px;color:#4e4e56;">-4</div>
<svg style="position:absolute;left:802px;top:842px" width="15" height="14"><path d="M8.07,-0.03 L9.73,-0.03 L9.83,0.81 L10.99,1.29 L11.66,0.77 L12.83,1.94 L12.31,2.61 L12.79,3.77 L13.63,3.87 L13.63,5.53 L12.79,5.63 L12.31,6.79 L12.83,7.46 L11.66,8.63 L10.99,8.11 L9.83,8.59 L9.73,9.43 L8.07,9.43 L7.97,8.59 L6.81,8.11 L6.14,8.63 L4.97,7.46 L5.49,6.79 L5.01,5.63 L4.17,5.53 L4.17,3.87 L5.01,3.77 L5.49,2.61 L4.97,1.94 L6.14,0.77 L6.81,1.29 L7.97,0.81 Z M6.85,4.70 a2.05,2.05 0 1,0 4.1,0 a2.05,2.05 0 1,0 -4.1,0 Z" fill="#3c3c3c" fill-rule="evenodd"/><path d="M2.53,7.56 L3.67,7.56 L3.71,8.18 L4.45,8.54 L4.97,8.18 L5.68,9.07 L5.21,9.50 L5.40,10.30 L6.00,10.48 L5.75,11.59 L5.13,11.49 L4.61,12.13 L4.85,12.72 L3.82,13.21 L3.51,12.66 L2.69,12.66 L2.38,13.21 L1.35,12.72 L1.59,12.13 L1.07,11.49 L0.45,11.59 L0.20,10.48 L0.80,10.30 L0.99,9.50 L0.52,9.07 L1.23,8.18 L1.75,8.54 L2.49,8.18 Z M2.10,10.40 a1.0,1.0 0 1,0 2.0,0 a1.0,1.0 0 1,0 -2.0,0 Z" fill="#3c3c3c" fill-rule="evenodd"/></svg>
<div class="t" style="left:60.20px;top:877.00px;font-size:13px;line-height:13px;color:#4e4e56;letter-spacing:0.090px;">FTP/P2P</div>
<div class="t" style="left:236.08px;top:877.00px;font-size:13px;line-height:13px;color:#4e4e56;">3002</div>
<div class="t" style="left:283.64px;top:877.00px;font-size:13px;line-height:13px;color:#4e4e56;letter-spacing:0.230px;">0.61 MB…</div>
<div class="t" style="left:363.02px;top:877.00px;font-size:13px;line-height:13px;color:#4e4e56;letter-spacing:0.279px;">0.02 Mbi…</div>
<div class="t" style="left:534.44px;top:877.00px;font-size:13px;line-height:13px;color:#4e4e56;letter-spacing:0.256px;">0 Mbit/s</div>
<div class="t" style="left:669.07px;top:877.00px;font-size:13px;line-height:13px;color:#4e4e56;letter-spacing:0.231px;">0.49 Mbit/s</div>
<svg style="position:absolute;left:802px;top:875px" width="15" height="14"><path d="M8.07,-0.03 L9.73,-0.03 L9.83,0.81 L10.99,1.29 L11.66,0.77 L12.83,1.94 L12.31,2.61 L12.79,3.77 L13.63,3.87 L13.63,5.53 L12.79,5.63 L12.31,6.79 L12.83,7.46 L11.66,8.63 L10.99,8.11 L9.83,8.59 L9.73,9.43 L8.07,9.43 L7.97,8.59 L6.81,8.11 L6.14,8.63 L4.97,7.46 L5.49,6.79 L5.01,5.63 L4.17,5.53 L4.17,3.87 L5.01,3.77 L5.49,2.61 L4.97,1.94 L6.14,0.77 L6.81,1.29 L7.97,0.81 Z M6.85,4.70 a2.05,2.05 0 1,0 4.1,0 a2.05,2.05 0 1,0 -4.1,0 Z" fill="#3c3c3c" fill-rule="evenodd"/><path d="M2.53,7.56 L3.67,7.56 L3.71,8.18 L4.45,8.54 L4.97,8.18 L5.68,9.07 L5.21,9.50 L5.40,10.30 L6.00,10.48 L5.75,11.59 L5.13,11.49 L4.61,12.13 L4.85,12.72 L3.82,13.21 L3.51,12.66 L2.69,12.66 L2.38,13.21 L1.35,12.72 L1.59,12.13 L1.07,11.49 L0.45,11.59 L0.20,10.48 L0.80,10.30 L0.99,9.50 L0.52,9.07 L1.23,8.18 L1.75,8.54 L2.49,8.18 Z M2.10,10.40 a1.0,1.0 0 1,0 2.0,0 a1.0,1.0 0 1,0 -2.0,0 Z" fill="#3c3c3c" fill-rule="evenodd"/></svg>
<div class="t" style="left:60.20px;top:910.00px;font-size:13px;line-height:13px;color:#4e4e56;letter-spacing:0.066px;">Infrastructure</div>
<div class="t" style="left:236.08px;top:910.00px;font-size:13px;line-height:13px;color:#4e4e56;">3007</div>
<div class="t" style="left:290.34px;top:910.00px;font-size:13px;line-height:13px;color:#4e4e56;letter-spacing:0.206px;">33 MByte</div>
<div class="t" style="left:363.02px;top:910.00px;font-size:13px;line-height:13px;color:#4e4e56;letter-spacing:0.279px;">0.93 Mbi…</div>
<div class="t" style="left:534.44px;top:910.00px;font-size:13px;line-height:13px;color:#4e4e56;letter-spacing:0.256px;">0 Mbit/s</div>
<div class="t" style="left:669.07px;top:910.00px;font-size:13px;line-height:13px;color:#4e4e56;letter-spacing:0.231px;">3.32 Mbit/s</div>
<svg style="position:absolute;left:802px;top:908px" width="15" height="14"><path d="M8.07,-0.03 L9.73,-0.03 L9.83,0.81 L10.99,1.29 L11.66,0.77 L12.83,1.94 L12.31,2.61 L12.79,3.77 L13.63,3.87 L13.63,5.53 L12.79,5.63 L12.31,6.79 L12.83,7.46 L11.66,8.63 L10.99,8.11 L9.83,8.59 L9.73,9.43 L8.07,9.43 L7.97,8.59 L6.81,8.11 L6.14,8.63 L4.97,7.46 L5.49,6.79 L5.01,5.63 L4.17,5.53 L4.17,3.87 L5.01,3.77 L5.49,2.61 L4.97,1.94 L6.14,0.77 L6.81,1.29 L7.97,0.81 Z M6.85,4.70 a2.05,2.05 0 1,0 4.1,0 a2.05,2.05 0 1,0 -4.1,0 Z" fill="#3c3c3c" fill-rule="evenodd"/><path d="M2.53,7.56 L3.67,7.56 L3.71,8.18 L4.45,8.54 L4.97,8.18 L5.68,9.07 L5.21,9.50 L5.40,10.30 L6.00,10.48 L5.75,11.59 L5.13,11.49 L4.61,12.13 L4.85,12.72 L3.82,13.21 L3.51,12.66 L2.69,12.66 L2.38,13.21 L1.35,12.72 L1.59,12.13 L1.07,11.49 L0.45,11.59 L0.20,10.48 L0.80,10.30 L0.99,9.50 L0.52,9.07 L1.23,8.18 L1.75,8.54 L2.49,8.18 Z M2.10,10.40 a1.0,1.0 0 1,0 2.0,0 a1.0,1.0 0 1,0 -2.0,0 Z" fill="#3c3c3c" fill-rule="evenodd"/></svg>
<div style="position:absolute;left:893px;top:53px;width:2px;height:881px;background:#f1f1f1"></div>
<div style="position:absolute;left:30px;top:933px;width:865px;height:1px;background:#ececec"></div>
</body></html>
